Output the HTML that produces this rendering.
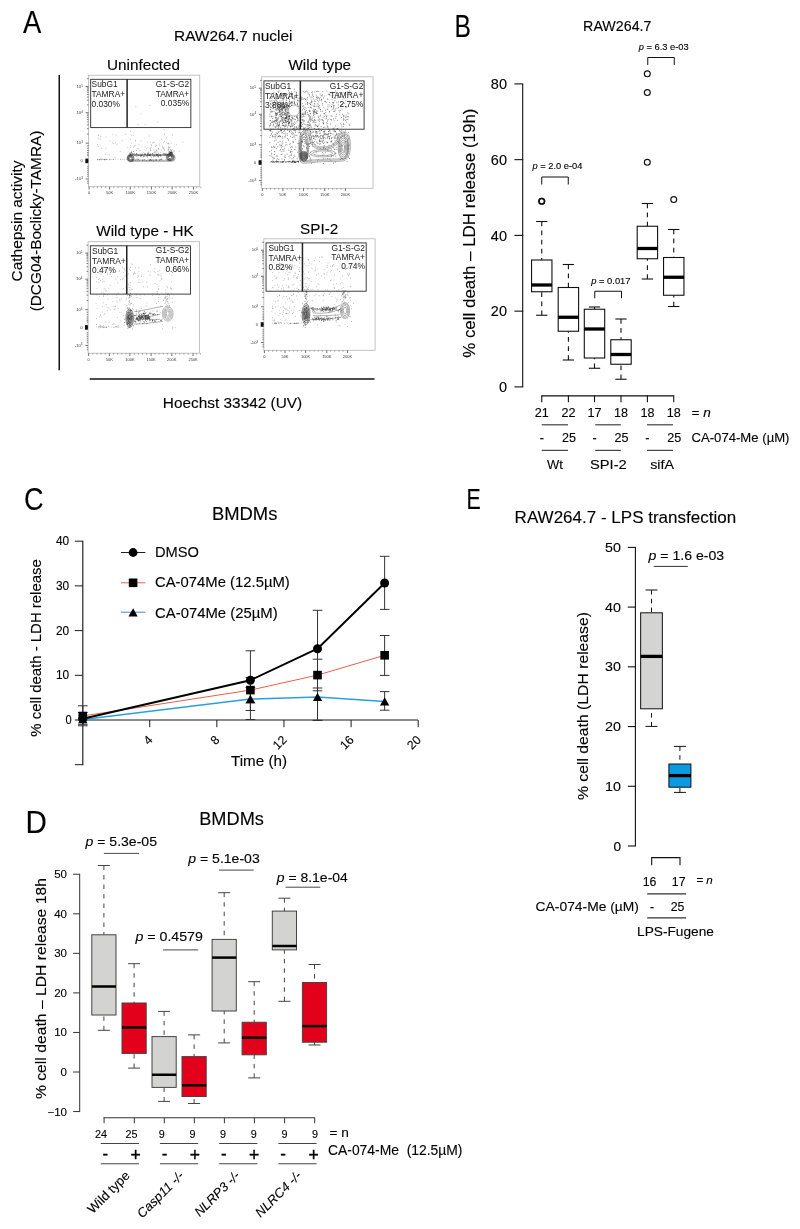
<!DOCTYPE html>
<html><head><meta charset="utf-8"><title>Figure</title>
<style>
html,body{margin:0;padding:0;background:#fff;}
body{width:800px;height:1229px;overflow:hidden;}
svg{display:block;font-family:"Liberation Sans",sans-serif;fill:#111;}
svg text{filter:grayscale(1);fill:#000;stroke:#000;stroke-width:0.12px;}
svg text.tk{fill:#3a3a3a;stroke:none;}
svg text.gt{fill:#1a1a1a;stroke:none;}
</style></head><body>
<svg width="800" height="1229" viewBox="0 0 800 1229">
<rect x="0" y="0" width="800" height="1229" fill="#fff" stroke="none"/>
<g id="panelA">
<text x="22.9" y="32.6" font-size="31" textLength="18.3" lengthAdjust="spacingAndGlyphs">A</text>
<text x="174" y="41.3" font-size="15.3" textLength="118.5" lengthAdjust="spacingAndGlyphs">RAW264.7 nuclei</text>
<text x="107" y="70.1" font-size="15.3" textLength="73" lengthAdjust="spacingAndGlyphs">Uninfected</text>
<text x="288.4" y="70.2" font-size="15.3" textLength="62.7" lengthAdjust="spacingAndGlyphs">Wild type</text>
<text x="96.25" y="236" font-size="15.3" textLength="97.5" lengthAdjust="spacingAndGlyphs">Wild type - HK</text>
<text x="300.1" y="234.4" font-size="15.3" textLength="38.3" lengthAdjust="spacingAndGlyphs">SPI-2</text>
<text x="162.8" y="408" font-size="15.3" textLength="139.4" lengthAdjust="spacingAndGlyphs">Hoechst 33342 (UV)</text>
<text x="22.4" y="221" font-size="15.3" text-anchor="middle" textLength="120.8" lengthAdjust="spacingAndGlyphs" transform="rotate(-90 22.4 221)">Cathepsin activity</text>
<text x="41" y="221" font-size="15.3" text-anchor="middle" textLength="180.7" lengthAdjust="spacingAndGlyphs" transform="rotate(-90 41 221)">(DCG04-Boclicky-TAMRA)</text>
<line x1="59.25" y1="75" x2="59.25" y2="370.3" stroke="#111" stroke-width="1.5"/>
<line x1="89.75" y1="379.1" x2="374.5" y2="379.1" stroke="#111" stroke-width="1.5"/>
<g transform="translate(88.45 75.2)">
<path d="M17.7 61.9h0M27.5 59.9h0M24.1 67.5h0M9.7 71.2h0M9.1 69.3h0M10.1 60.4h0M20.7 79.5h0M11.7 63.8h0M26.8 82.6h0M25.3 68.3h0M37.3 59.2h0M33.8 65.5h0M12.3 61.1h0M17.3 79.2h0M13.4 73.1h0M27.2 67.7h0M24.4 59.6h0M9.8 63.4h0M28.4 69.1h0M17.4 73.2h0M21.6 65.8h0M31.8 76.2h0M41.8 72.2h0M62.8 69.5h0M69.5 73.7h0M47.9 78.6h0M79.8 76h0M65.3 66.9h0M70.8 70.6h0M59 67h0M53.4 71.1h0M78.2 62.8h0M48 75.3h0M79.9 77.2h0M43.1 60.1h0M67.9 70h0M76.1 74.9h0M66.7 76.4h0M81.5 77.4h0M69.7 77h0M74.5 76.9h0M42.3 70.5h0M73.3 64h0M70.1 73.2h0M67.6 77.6h0M56.7 71.7h0M75.5 74.1h0M80.1 71.6h0M48.8 73.3h0M62.4 72.4h0M79.5 68.4h0M77.9 67h0M55.3 77.5h0M76.4 78.7h0M67.8 74.8h0M65.7 77.2h0M62.1 75.5h0M70.3 74h0M72.4 77.1h0M86.1 75.8h0M59.3 72h0M60.3 76.1h0M84.2 59.9h0M51.6 75.3h0M68.4 75.3h0M59.3 77.6h0M67.1 71.1h0M90.7 76h0M57.9 73.5h0M61.5 73.7h0M75.1 67.6h0M45.3 72.1h0M60.2 77.4h0M76 59.2h0M76 66h0M71.5 65.8h0M62.4 75.1h0M72.8 74.8h0M75.5 72.4h0M74.1 72.5h0M65.5 77.9h0M66.4 77.5h0M47.2 65.7h0M70.8 68.7h0M52.7 65.9h0M77.9 78.1h0M80.2 68.8h0M64 67.7h0M74.9 73h0M62.9 70.7h0M68.4 76.3h0M80.5 68.4h0M80 73h0M65.3 74.7h0M79.7 72.6h0M38.7 71.9h0M43.6 78.5h0M67.5 70.6h0M63.9 78.6h0M56.6 78.8h0M43.4 68h0M50.4 73.9h0M61.9 73.8h0M57.5 75.3h0M83.7 74.2h0M61.8 67.1h0M45.9 70.7h0M75.1 78.4h0M64.1 78.4h0M65.8 67.5h0M46.8 70.5h0M74.2 70.9h0M61.3 30.2h0M52.6 38.5h0M47.4 31.5h0M49.6 49.4h0M68.8 46.6h0M90 19.4h0M56.7 49.5h0M81.1 14h0M44.9 60h0M42.1 56.3h0M42.2 64.1h0M82.7 68.1h0M46.8 64.9h0M75.6 54.6h0M88.3 69.4h0M50.5 69.1h0M60.7 60.8h0M94.4 67h0M13.3 83.9h0M18.7 84.3h0M14.4 84h0M9.1 84.6h0M25.1 84.2h0M18.4 84.2h0M27.2 84.1h0M38.1 84.2h0M32.2 84.3h0M16.5 84.2h0M9.7 84.2h0M12.4 84h0M21.2 84.6h0M16.3 84h0M13 84.5h0M29.5 84h0M11.2 84.6h0M21.3 84.3h0M10.7 84.5h0M32.5 84.1h0M11 84.3h0M34.4 84.1h0M22.1 84h0M36.3 84.5h0M16.5 84.4h0M15.7 84.4h0M11.8 84.2h0M14.6 84.3h0M17.9 84.1h0M17.2 84.6h0M23.5 84.3h0M9 84.4h0M16 84.6h0M25 84.2h0" stroke="#444" stroke-width="0.62" stroke-linecap="round" fill="none" opacity="0.65"/>
<path d="M67.5 80.7h0M67.7 79.9h0M67.8 79.3h0M49.9 80.5h0M47.9 78.2h0M48.5 81.1h0M57 79h0M52.1 80.4h0M68.5 80.1h0M81.3 80.5h0M61.7 80.4h0M83.5 80.7h0M75.3 79.2h0M60.1 80.5h0M58.1 80.7h0M69.8 80.6h0M59.2 81.8h0M78.1 79.8h0M63.2 81.8h0M57.5 80.6h0M74.7 80h0M46.8 80.1h0M66.7 80.8h0M72.2 80h0M73.1 80.4h0M64.7 80h0M58.8 80.5h0M48.3 79.6h0M62.1 79h0M56.3 78.6h0M53.1 80.4h0M69.4 80h0M59 79h0M76.2 79.4h0M59.6 78.7h0M72.1 80.7h0M70.2 78.8h0M53.8 79h0M62.4 80.2h0M70.2 80.5h0M81.5 80.8h0M44.9 79.6h0M48.2 79.2h0M60.9 80h0M68.4 78.9h0M45.9 80h0M59.4 79.8h0M61.2 79.5h0M71.1 80.2h0M60.9 79.5h0M59.7 78.1h0M49.2 80h0M42.4 80.1h0M63.9 79h0M58.7 79.8h0M68 80.4h0M61.5 79.4h0M60.1 80h0M71.5 80.2h0M52.6 79.1h0M57.1 79.5h0M47.5 79.9h0M55.6 80.1h0M68.8 79.7h0M76.3 80.1h0M76.5 78.3h0M52.2 80.2h0M69.8 81.6h0M66.2 80.9h0M72 80.7h0M68.6 79.9h0M68.6 79.2h0M77.4 79.3h0M65.2 81.5h0M59.1 80h0M77.1 80h0M51.5 80.2h0M69.6 80.5h0M52 81.2h0M83.7 80h0M65.5 79.7h0M80.4 79.5h0M70.8 79.7h0M53 80.5h0M79.3 80h0M53.2 80.6h0M61.4 80.2h0M81.8 80.8h0M55.2 81.6h0M62 80.6h0M53.6 80h0M79.8 79.1h0M42.4 78.9h0M77.3 79.7h0M61.2 79.8h0M60.4 79.2h0M62.3 79h0M61.1 80.2h0M68.1 79.8h0M50.3 80.1h0M55.7 81.1h0M72 79.9h0M55.9 79.5h0M49.8 79.8h0M65.8 80.4h0M69.4 81.5h0M52.8 80h0M55.2 80.1h0M64 80.3h0M58.9 80.3h0M62.6 85.2h0M62 84.3h0M49.5 85.1h0M54.2 85.1h0M70.9 85h0M68.1 84.7h0M45.1 84.8h0M67.5 84.5h0M60.8 85.2h0M51.5 85.1h0M63.8 84.7h0M80.5 85h0M72.8 84.5h0M61.8 84.8h0M72.8 83.9h0M70.9 84.7h0M67.4 85h0M44 84.7h0M79.9 84.5h0M49.7 84.1h0M47.3 85h0M82.3 85h0M64.9 85.9h0M55.8 84.5h0M68.3 85.1h0M49.8 84.2h0M65.5 84.9h0M46.3 84.7h0M55.5 85h0M60.6 84.8h0M57.8 85.3h0M78.7 84.6h0M72.2 84.4h0M62.9 85.2h0M80.2 84.6h0M61.1 84.9h0M44 84.8h0M53.9 85h0M48.4 83.8h0M62.5 84.9h0M81.1 79.1h0M81.5 76.9h0M82.8 75.4h0M80.8 77.8h0M83.4 77.6h0M82.5 76.8h0M82.5 80.3h0M80.8 81.3h0M80.9 77.8h0M82.3 79.3h0M79.9 74.6h0M83 79h0M83.1 81.7h0M82.3 78.2h0M83.6 78.4h0M84.8 75.9h0M81.4 72.6h0M83.4 77.2h0M83.6 81h0M82 77.4h0M81.2 76.5h0M80.9 78.8h0M82.1 77.9h0M81.7 79.2h0M82.8 77.6h0M83.1 77.6h0M80 80h0M82.8 76.4h0M83.8 78.3h0M79.3 80.2h0M82.6 79.1h0M82.3 77.6h0M79.4 79.3h0M82.1 77.4h0M82.6 77.9h0M83.1 77.2h0M81.9 74.6h0M81.3 78.8h0M84.3 77.3h0M81.8 80.2h0M41.5 80.4h0M44.5 79.4h0M43.8 78.2h0M42.3 79.2h0M42.2 81h0M45.6 78.3h0M41.1 80h0M40.4 80h0M42.9 78.9h0M42.8 77h0M43.1 77h0M41 78.5h0M41.4 80.6h0M42.1 78.7h0M42.8 81.7h0M42 79.8h0M43.9 79.7h0M40.1 83h0M45.3 76.3h0M41.9 79.9h0M43.4 80.3h0M41.6 77.7h0" stroke="#222" stroke-width="0.65" stroke-linecap="round" fill="none" opacity="0.9"/>
<rect x="38.7" y="79.2" width="48" height="6.8" rx="3.4" ry="3.4" fill="none" stroke="#555" stroke-width="0.55"/>
<rect x="39.7" y="80.2" width="46" height="4.8" rx="2.4" ry="2.4" fill="none" stroke="#666" stroke-width="0.5"/>
<ellipse cx="42.2" cy="83.2" rx="3.3" ry="3.3" fill="none" stroke="#2a2a2a" stroke-width="0.6" opacity="1"/>
<ellipse cx="81.6" cy="81.9" rx="3.8" ry="3.6" fill="none" stroke="#2a2a2a" stroke-width="0.6" opacity="1"/>
<ellipse cx="42.2" cy="83.2" rx="2.3" ry="2.3" fill="none" stroke="#2a2a2a" stroke-width="0.6" opacity="1"/>
<ellipse cx="81.6" cy="81.9" rx="2.8" ry="2.6" fill="none" stroke="#2a2a2a" stroke-width="0.6" opacity="1"/>
<ellipse cx="42.2" cy="83.2" rx="1.3" ry="1.3" fill="none" stroke="#2a2a2a" stroke-width="0.6" opacity="1"/>
<ellipse cx="81.6" cy="81.9" rx="1.8" ry="1.6" fill="none" stroke="#2a2a2a" stroke-width="0.6" opacity="1"/>
<rect x="0" y="0" width="111.3" height="111.5" fill="none" stroke="#b5b5b5" stroke-width="0.8"/>
<line x1="-2.8" y1="11.4" x2="0" y2="11.4" stroke="#333" stroke-width="0.7"/>
<line x1="-2.8" y1="37.5" x2="0" y2="37.5" stroke="#333" stroke-width="0.7"/>
<line x1="-2.8" y1="68" x2="0" y2="68" stroke="#333" stroke-width="0.7"/>
<line x1="-2.8" y1="85.7" x2="0" y2="85.7" stroke="#333" stroke-width="0.7"/>
<line x1="-2.8" y1="103.8" x2="0" y2="103.8" stroke="#333" stroke-width="0.7"/>
<path d="M-1.6 29.64H0M-1.6 25.05H0M-1.6 21.79H0M-1.6 19.26H0M-1.6 17.19H0M-1.6 15.44H0M-1.6 13.93H0M-1.6 12.59H0M-1.6 58.82H0M-1.6 53.45H0M-1.6 49.64H0M-1.6 46.68H0M-1.6 44.27H0M-1.6 42.22H0M-1.6 40.46H0M-1.6 38.9H0M-1.6 3.54H0M-1.4 70.5H0M-1.4 73H0M-1.4 75.3H0M-1.4 77.3H0M-1.4 79H0M-1.4 80.5H0M-1.4 91H0M-1.4 93H0M-1.4 95H0M-1.4 97H0M-1.4 99H0M-1.4 101H0M-1.4 106H0M-1.4 108H0" stroke="#333" stroke-width="0.6" fill="none"/>
<rect x="-3.1" y="83.4" width="2.9" height="4.6" fill="#111"/>
<text x="-5.6" y="12.7" class="tk" font-size="4.2" text-anchor="end">10<tspan dy="-1.3" font-size="3.0">5</tspan></text>
<text x="-5.6" y="38.8" class="tk" font-size="4.2" text-anchor="end">10<tspan dy="-1.3" font-size="3.0">4</tspan></text>
<text x="-5.6" y="69.3" class="tk" font-size="4.2" text-anchor="end">10<tspan dy="-1.3" font-size="3.0">3</tspan></text>
<text x="-5.6" y="87" class="tk" font-size="4.2" text-anchor="end">0</text>
<text x="-5.6" y="105.1" class="tk" font-size="4.2" text-anchor="end">-10<tspan dy="-1.3" font-size="3.0">3</tspan></text>
<path d="M0.6 111.5v2.8M21.2 111.5v2.8M41.8 111.5v2.8M63 111.5v2.8M83.7 111.5v2.8M105 111.5v2.8" stroke="#333" stroke-width="0.7" fill="none"/>
<path d="M4.74 111.5v1.5M8.88 111.5v1.5M13.02 111.5v1.5M17.16 111.5v1.5M25.44 111.5v1.5M29.58 111.5v1.5M33.72 111.5v1.5M37.86 111.5v1.5M46.14 111.5v1.5M50.28 111.5v1.5M54.42 111.5v1.5M58.56 111.5v1.5M66.84 111.5v1.5M70.98 111.5v1.5M75.12 111.5v1.5M79.26 111.5v1.5M87.54 111.5v1.5M91.68 111.5v1.5M95.82 111.5v1.5M99.96 111.5v1.5M108.24 111.5v1.5M112.38 111.5v1.5" stroke="#555" stroke-width="0.5" fill="none"/>
<text x="0.6" y="119.1" class="tk" font-size="4.0" text-anchor="middle">0</text>
<text x="21.2" y="119.1" class="tk" font-size="4.0" text-anchor="middle">50K</text>
<text x="41.8" y="119.1" class="tk" font-size="4.0" text-anchor="middle">100K</text>
<text x="63" y="119.1" class="tk" font-size="4.0" text-anchor="middle">150K</text>
<text x="83.7" y="119.1" class="tk" font-size="4.0" text-anchor="middle">200K</text>
<text x="105" y="119.1" class="tk" font-size="4.0" text-anchor="middle">250K</text>
<rect x="2.25" y="4.1" width="100.15" height="48.3" fill="none" stroke="#2a2a2a" stroke-width="0.9"/>
<line x1="38.65" y1="4.1" x2="38.65" y2="52.4" stroke="#222" stroke-width="1.5"/>
<text x="3.1" y="12.1" class="gt" font-size="8.4">SubG1</text>
<text x="3.1" y="22" class="gt" font-size="8.4">TAMRA+</text>
<text x="3.1" y="31.4" class="gt" font-size="8.4">0.030%</text>
<text x="100.8" y="11.8" class="gt" font-size="8.4" text-anchor="end">G1-S-G2</text>
<text x="100.8" y="21.7" class="gt" font-size="8.4" text-anchor="end">TAMRA+</text>
<text x="100.8" y="30.6" class="gt" font-size="8.4" text-anchor="end">0.035%</text>
</g>
<g transform="translate(261.7 76.8)">
<path d="M15 44h0M26.6 62.5h0M30.4 75h0M27.9 22.7h0M25 40.9h0M30.1 28.3h0M15.4 31.7h0M12.6 77.7h0M25.3 37.5h0M19.9 85.5h0M23.2 30.7h0M32.3 61h0M37.7 21.4h0M22.2 73h0M33.2 79.8h0M9.2 35.1h0M11.6 27.6h0M37.2 56h0M35.9 40.8h0M34 46.3h0M15.8 70h0M36.4 21.6h0M25.9 58.6h0M14.5 40.5h0M12.2 28.7h0M15.6 57.2h0M27.5 28.6h0M8.3 37.6h0M28.3 27.3h0M17.4 28.6h0M31.9 53.5h0M9.9 21.3h0M19.9 53.6h0M27.2 20.6h0M12.9 64.1h0M20.3 34.4h0M17.2 82.6h0M17.4 54.8h0M18.7 44h0M33.9 85.8h0M18.9 28.2h0M29.8 28.7h0M8.2 78.9h0M20.7 73.1h0M20.2 77.6h0M21.8 25.7h0M8.4 53.7h0M27.2 79.5h0M10.7 58.8h0M19.1 50.3h0M12.4 34.4h0M23.6 80.6h0M11.3 49.3h0M32.1 83.6h0M13.9 23.1h0M36.3 84.2h0M22.5 17.8h0M35.8 41.9h0M35.1 58.7h0M32.7 25.5h0M20.1 74.9h0M32.9 27.2h0M14.5 42.8h0M23.5 41.6h0M11.7 31.8h0M29.7 78.6h0M9.2 54.5h0M30.7 16.7h0M33.1 22.5h0M26 53.6h0M26.8 36h0M20.6 55.9h0M20.8 61.4h0M21.4 45.6h0M8.7 58.6h0M22.7 30.9h0M30.9 70.2h0M21.7 26.9h0M22.2 21.7h0M11.9 45h0M10.8 45.8h0M23.3 16.9h0M27.1 19.9h0M30 70h0M23.3 17.9h0M23.1 41.2h0M36.5 23.8h0M33.7 85.7h0M30 72.7h0M13.8 84.7h0M22.8 82.9h0M35.5 25.9h0M31.7 81h0M10 39.3h0M30.7 25.4h0M32.5 24.3h0M23.1 80.2h0M14.2 32.9h0M23.2 37h0M9.1 27.1h0M12.8 81.4h0M28.4 78.5h0M13.1 70.5h0M11.5 52.2h0M27.1 39.9h0M34.2 54h0M25.4 77.5h0M11.1 85.5h0M26.9 42.4h0M37.7 55.6h0M18.8 69.1h0M21.3 26.7h0M30.3 17.5h0M27.2 84.9h0M25.6 61.8h0M17.4 14.1h0M9 24.8h0M26.5 45.1h0M23.4 78.5h0M12 30.4h0M27.6 15.6h0M8.1 39.6h0M11.2 39.7h0M14.7 56h0M25.7 28.7h0M26.7 48.2h0M12 81.4h0M15.3 24.8h0M10.9 60h0M34.1 70.3h0M20.1 33h0M8.3 60.4h0M24.9 39.2h0M27.4 46h0M36.1 66.8h0M15.5 79.1h0M9.3 52.3h0M20.2 31.1h0M9.8 70.1h0M8.4 53.7h0M36.2 24.2h0M14 57.8h0M23.2 60.2h0M32.4 26.6h0M17.3 35.6h0M9.5 78h0M31.5 65.5h0M8.2 74.8h0M30.4 47.5h0M30.3 46.6h0M14.8 21.6h0M15 16.8h0M18.1 68h0M28.9 74.9h0M24.6 45.4h0M31.7 51.7h0M16 60.2h0M37 29.6h0M34.4 15.1h0M15.8 31h0M30.3 82h0M15.2 79.3h0M26.9 63.9h0M28 84.5h0M22.1 74.5h0M28.9 75.7h0M21.1 66.2h0M25.1 36.2h0M14.4 58.8h0M10.3 79.6h0M12.3 15.9h0M11.2 80.9h0M18.3 24.2h0M8.9 17h0M28.8 59.6h0M28.9 67h0M10 56.5h0M18.9 72.9h0M32.6 78.2h0M10 76.5h0M35.4 82h0M11.2 28.8h0M11.4 16.5h0M33.4 72.5h0M27 73.4h0M11 21h0M17.6 44.5h0M8.6 32.5h0M16.5 65.5h0M19 37.1h0M36.9 50.3h0M33.5 58.5h0M8.9 43.7h0M21.1 69.7h0M18.4 64.7h0M24.1 29.6h0M33.9 20.5h0M32.6 26.3h0M8 28.5h0M30.9 84.4h0M8.1 49.3h0M22.7 71.4h0M13.5 49.6h0M18.4 73.9h0M15.8 82h0M16.5 29.5h0M29 49.9h0M11.3 59.8h0M10.4 70.7h0M28.9 70.7h0M26.8 39.6h0M20 42.4h0M34.7 20.2h0M34.7 15.8h0M14.2 33h0M35 50.1h0M19.4 77.6h0M15 47.2h0M23.9 68.3h0M30.6 60.5h0M18.5 37.5h0M12.7 74.7h0M27.9 67.4h0M13.1 45.6h0M31.2 55.7h0M11.8 47.3h0M13.7 35.7h0M29.1 74.7h0M12.6 25.2h0M15.4 37.5h0M23.7 25.6h0M17.8 27.6h0M37.3 66.5h0M11.1 83.3h0M11 41.7h0M37.5 71.2h0M30 45.3h0M13.9 59.9h0M11.2 28.9h0M19.7 16.4h0M20 71h0M28.8 50h0M27 47.4h0M12.3 57.5h0M20.1 67.3h0M35.2 45h0M25.2 67.9h0M20.6 30.5h0M29.7 77.4h0M31.2 64.4h0M33.6 62.9h0M27.2 46.7h0M17.4 59.2h0M10.9 44.2h0M31.5 65.3h0M26.9 32h0M20.7 46.8h0M26.6 43.5h0M28.3 81h0M13.5 61.1h0M31.3 42h0M22.7 84.2h0M9.1 53.1h0M12.8 70.3h0M36.2 51.4h0M11 55.4h0M24.2 65.6h0M23.4 60h0M32.9 51.6h0M20.3 82.3h0M14.3 63.3h0M19.8 68.9h0M11.7 84.9h0M18.7 18.1h0M16.2 42.8h0M8.4 44.1h0M20.6 64.3h0M18.6 33.1h0M14.7 67.4h0M36.2 51.9h0M14.6 71.7h0M19.8 29.3h0M11.9 69.9h0M32.3 59.7h0M22.1 54.5h0M14.8 83.4h0M18.6 60h0M32.6 72.8h0M22 35.2h0M24.4 23h0M33 39.5h0M19.3 32.3h0M20.8 27.4h0M8.1 66h0M16.4 31.6h0M17.1 48.5h0M20.9 59.9h0M27.8 40.1h0M35.9 75.5h0M9.7 73.6h0M35.6 27.3h0M33.6 54h0M23.1 36.6h0M20.6 31.1h0M27.6 41.6h0M25.4 56.9h0M21.4 43.2h0M35.7 27h0M32.3 58.2h0M13.2 25.9h0M15.7 17.7h0M27.6 17.6h0M28 54h0M11.1 34.5h0M8.7 46.6h0M18.1 35.1h0M24.4 44h0M21.2 38.2h0M19.6 39.3h0M14.6 38.7h0M8.5 32.6h0M39.3 38.9h0M13.9 40.8h0M16.2 19.8h0M18.1 46.1h0M27.1 36.9h0M16.6 26.1h0M34.8 40.7h0M16.4 14.8h0M14.8 37.2h0M25.7 36.3h0M21.8 22.9h0M15.6 56.6h0M17.9 47.3h0M10.4 35h0M26.1 49.4h0M15 44.5h0M27.1 29.9h0M27.8 28.1h0M17.6 37.8h0M16 21.9h0M20.6 46.4h0M20.8 51.9h0M14.7 23.6h0M36.4 42.4h0M30.4 40.9h0M16.3 21.7h0M15.7 27.7h0M20.4 24h0M21.7 31.1h0M19.6 27.4h0M24.3 32.9h0M24.9 40.7h0M26.7 13.9h0M19.7 29.2h0M30.2 20.6h0M18.3 34.8h0M21.3 48.9h0M20.5 48.6h0M12.3 18.1h0M33.8 42.8h0M27.9 39.4h0M27.9 24.6h0M8.2 23.8h0M20.8 40.7h0M20.6 32h0M24.8 39.6h0M36.1 38.5h0M39 57.8h0M37.7 49.7h0M25 39.5h0M22.9 30h0M23.5 31h0M37.1 43.9h0M20.4 16.9h0M23.6 33.4h0M15.3 25.5h0M23.8 36.4h0M35.6 39.5h0M25.3 33.9h0M19.2 54.5h0M32 56.9h0M21.2 38.3h0M17 48.6h0M12.9 44.2h0M32.8 53.5h0M16.5 50h0M18.3 29.7h0M13.4 50.7h0M17.9 34.3h0M19.7 18.3h0M18.6 51.1h0M38.9 35.1h0M18.5 32.4h0M8.9 48h0M15.3 49.7h0M10.3 24h0M26.3 29.6h0M14.6 44.8h0M30.7 17h0M38.6 43.5h0M30.1 17.5h0M18.2 34.2h0M32.6 21.9h0M16.9 15.7h0M22.1 41.8h0M10.5 31.5h0M28.1 55.4h0M14.6 27.7h0M18.7 39.6h0M23.6 56.3h0M26.3 26.2h0M36.4 48.4h0M24.8 30.1h0M9 26.8h0M13.4 40.2h0M26 44.7h0M29.2 53.5h0M17.3 48.8h0M16.1 45.6h0M25.4 40.7h0M32.9 47.6h0M25.1 31.8h0M18 32.2h0M22.4 37.7h0M30.2 28.5h0M18.3 34.5h0M25.5 26.6h0M32.6 12.3h0M23.9 41.1h0M25.5 44.6h0M26.2 39.8h0M8.9 30.2h0M26.5 35.9h0M17.4 31.6h0M38.8 57h0M23.5 52.2h0M11.3 16.7h0M20.1 28.4h0M19.5 40.1h0M24.4 41h0M23.7 48.2h0M38.2 24.3h0M25.3 35.1h0M26.9 21.2h0M9.9 12.5h0M28.2 40.1h0M21 29.7h0M12.7 27.9h0M29.6 44h0M23.8 43.7h0M19.2 38.8h0M24.3 44.1h0M23.4 36.4h0M22.9 30.9h0M35.2 20.9h0M29.6 47.2h0M39.1 52.5h0M30.2 25.1h0M17 41h0M28 26.8h0M20.9 33.6h0M24.5 41.7h0M21.7 24.4h0M33.9 55.6h0M23.2 49.3h0M27.6 45.3h0M27.9 29.6h0M28.6 49.1h0M16.8 59.6h0M39.9 46.2h0M21.3 31.4h0M17.5 39.3h0M23.7 45.4h0M29.4 43.2h0M26.2 35.7h0M23 28.9h0M25.4 37.7h0M26.6 28.6h0M24.3 38.5h0M28.8 26.3h0M27.4 48.8h0M20.1 35.4h0M29.8 55.1h0M22.7 30.9h0M27 40.2h0M16.7 29.9h0M23.2 45.4h0M14.5 26.8h0M28 24.5h0M24.9 41.9h0M23.1 26.8h0M23.5 34.3h0M26.7 28.8h0M32.7 19.6h0M22.6 38.1h0M29.9 57.1h0M20.8 42.9h0M16.6 48.7h0M14.9 42.4h0M33.2 50h0M30.5 17.9h0M18.6 53.6h0M14.2 50.4h0M39.1 46.4h0M14.2 36.9h0M22.4 37.5h0M25.5 42.7h0M24 58.3h0M27.5 38.9h0M22.3 31.1h0M34.8 39.7h0M15.4 31.8h0M22.9 33.1h0M32.7 25.2h0M27.9 39.6h0M14.6 38.5h0M23.2 43.5h0M20.4 41.3h0M10.7 26.1h0M30.3 49.5h0M23.9 31.4h0M32.7 15h0M17.6 45.4h0M29.2 26.6h0M8.9 54h0M25.2 28.1h0M24.4 47.9h0M29.9 15.1h0M30.2 18.4h0M33.1 42.4h0M24 49.5h0M18.9 30.2h0M21 37.2h0M15.3 43.3h0M28.3 38.8h0M30 16.7h0M25.6 36.1h0M20 31.3h0M21.2 30.1h0M19.6 32.2h0M15.5 36.5h0M20.1 52.9h0M31.8 48.1h0M23 50.2h0M19.6 36.7h0M27 42.1h0M21.8 48.8h0M22.6 46h0M32.6 45.3h0M29.9 25.2h0M13.5 31.2h0M27.8 54.5h0M14.2 41.4h0M17.2 29.9h0M21.8 45.6h0M25.7 51h0M16.1 47.8h0M15.3 33.5h0M20.1 56.2h0M25.6 41.4h0M31.3 42.1h0M11.9 44.6h0M28.4 43h0M28.1 46.2h0M16.8 51.2h0M12.4 23.7h0M28.2 26h0M23.1 19.9h0M24.6 25.5h0M26.7 21.1h0M24.5 37.3h0M25 23.5h0M16.5 33h0M27.4 16.2h0M17.9 31.3h0M15.5 41.6h0M22.9 29h0M16.1 46.9h0M18.7 44.4h0M27.6 17.2h0M15.3 38h0M26.7 46.6h0M30.4 49.4h0M21 35.7h0M32.5 20.5h0M8.3 48.8h0M26.5 38.2h0M15.4 32.9h0M36.1 28.9h0M14.4 36.5h0M20.9 28h0M17.3 49.5h0M12.5 59.5h0M19.6 26h0M30.3 44.2h0M15.7 46.2h0M9.3 27.8h0M13.6 43.7h0M9.5 34.2h0M27.3 46.5h0M38.8 35.2h0M20.1 37.6h0M33.6 27.6h0M27.7 45.6h0M14.5 37h0M25.9 44.5h0M16.6 27.1h0M22.5 35.6h0M12 48.2h0M19.7 53.8h0M29.8 25.8h0M21.4 31.7h0M13.8 38.2h0M22.8 53.8h0M16.7 32.9h0M27.4 42.4h0M24.2 32.8h0M28 42h0M9.3 35.1h0M13 25h0M25.2 38.7h0M24.9 28.4h0M22.4 28h0M27.1 45.6h0M38 51.9h0M17.6 33h0M16.5 41.4h0M39.8 45.8h0M13.7 43.7h0M24 41.3h0M38.3 28.9h0M17.2 59.6h0M26.7 29.4h0M7.8 21.2h0M24.4 48.9h0M22.9 30.4h0M18.1 58.9h0M9.9 39.9h0M24.2 44.8h0M20.8 43.5h0M20.3 36h0M16.3 35.7h0M21.6 40.3h0M34.7 52.4h0M20.4 44.6h0M26.4 46.4h0M24.2 40.9h0M20.2 29.4h0M31 52.3h0M29.3 42.8h0M26.1 33h0M9.7 45.3h0M25.6 31.9h0M16.3 52.1h0M9.6 57.4h0M18.3 37.8h0M19.9 39.7h0M22.3 29.8h0M19.9 44.1h0M19.7 33.2h0M14 36.9h0M22.2 56.8h0M15.2 48.7h0M17.7 34.1h0M21.4 41h0M30.9 57.2h0M18.9 52.6h0M32 46.9h0M17.9 47.9h0M23.1 41.9h0M21.8 45.3h0M32.9 50.4h0M22.4 48.9h0M35.6 27.7h0M35.8 23.3h0M28.3 44.5h0M35.9 41.1h0M20.2 29.2h0M14 46.4h0M22.1 30.1h0M28.3 29.6h0M20.5 33h0M37.2 54.1h0M22.7 20.7h0M26.2 38.8h0M26.8 44.2h0M21.4 48.2h0M30.7 40.3h0M20.7 32.7h0M29.5 25.9h0M22.7 29.8h0M12.9 44.6h0M23.8 38.4h0M31 21.6h0M23.5 41.2h0M30.7 26.1h0M29.7 40.4h0M34.8 50.5h0M24 33.3h0M21.3 27.7h0M23.8 17.3h0M23.3 42.7h0M22.9 17.3h0M17.9 29.3h0M35.7 43.7h0M15.4 43.7h0M24.2 34.7h0M19.8 19h0M23.3 51.8h0M18.2 35.7h0M31 41.8h0M19.4 41.9h0M22.4 43.5h0M20.8 22.2h0M24.5 46.2h0M15.4 36.8h0M18.9 59.8h0M30.5 49h0M16.6 55.5h0M65.4 49h0M46.5 44.7h0M67.9 35.2h0M76.3 52.2h0M43.7 27.3h0M56 23.5h0M41 26.9h0M47.9 46.3h0M60.4 19.2h0M54.2 35.6h0M56.1 21.7h0M41.6 14.5h0M87.6 48.5h0M42.2 47h0M87 39.9h0M43.4 36.5h0M59.7 22.7h0M65.2 14.4h0M84 43.6h0M69.4 57h0M70.6 25.6h0M50.3 20.4h0M39.4 49.6h0M80 27.6h0M47.3 43.4h0M80.3 56.6h0M46.4 50.1h0M79.5 48.1h0M54.3 22.5h0M79.3 28.7h0M56.4 39.4h0M56.5 52.2h0M50 15.9h0M66.3 42.9h0M79 46.5h0M83.3 57.5h0M62.7 37h0M45.9 27.8h0M67.1 17.7h0M72.4 21.5h0M60.2 58.6h0M42.5 15.8h0M60 22.8h0M74.1 14.1h0M80 53.3h0M77.3 33.6h0M52.2 44.4h0M63.7 33.4h0M54.9 34.2h0M71.3 52h0M83.2 21.6h0M52.8 34.4h0M66.2 30h0M47.8 17.9h0M54.2 35.2h0M86.6 55.8h0M81.3 58.8h0M86.1 42.5h0M78.6 16.8h0M71.8 42h0M52.9 40.3h0M85.6 36.1h0M70.4 27.8h0M55.2 54.7h0M39.4 22.7h0M71.9 34.6h0M42.3 44.4h0M56.6 40.7h0M58.8 38.4h0M66.2 32.2h0M43.7 22.3h0M82.5 39.2h0M43.6 53.7h0M50.7 18.4h0M64.5 25.6h0M62.5 39.5h0M49.3 40.3h0M43.7 37.6h0M67.4 17.7h0M58.4 17.4h0M60 53.7h0M65.5 46.9h0M75.8 19.3h0M87.5 47.2h0M43.1 52.2h0M57.6 21.9h0M86 39.9h0M76.7 20.3h0M76.8 16.6h0M49.8 31.1h0M38.8 41.3h0M48.7 27.8h0M73.4 33.6h0M82.4 42.6h0M81.6 39.9h0M83.9 54.1h0M46.4 48.3h0M55.1 49.1h0M72 52h0M44.1 31.2h0M74.9 57.6h0M74.1 16h0M68.2 18.6h0M65.4 50.9h0M43.6 56.6h0M71.8 25.7h0M47.7 34.6h0M79.9 40.7h0M43.7 15h0M43.5 50.8h0M47.3 39.5h0M52.5 45.6h0M57 20.6h0M81.8 38.8h0M72.5 51.2h0M85.4 14.6h0M55.1 20.9h0M63.1 54.2h0M78 15.6h0M47.1 51.6h0M72 32.1h0M61.8 21.3h0M80.3 32.1h0M81.7 42.1h0M41.8 29.1h0M48.8 55.1h0M67.5 16h0M46.5 30.6h0M61.4 40.5h0M57.4 30.3h0M38.3 40.6h0M54.7 14.9h0M61 59.4h0M40.3 20.7h0M71.5 26.5h0M51.7 37h0M51.1 40.2h0M64.4 58h0M87.6 15.6h0M66 49.5h0M81.6 49.6h0M69.7 43.2h0M56.1 27h0M77.8 54.1h0M84.9 45.3h0M53.2 49.1h0M75 37.4h0M69.8 30.1h0M65.5 32.7h0M41 29.5h0M54.2 59.5h0M62.1 30.9h0M50.2 24.8h0M55.5 20.2h0M38.4 54.1h0M60.7 34.5h0M66.4 27.9h0M46.4 17.1h0M53.1 28.2h0M74.3 39.4h0M84.9 29.7h0M84.1 40.8h0M42 22.2h0M67 59.4h0M55.8 49.6h0M59.4 53.9h0M41.4 36.3h0M83 26.7h0M50.9 15.1h0M46.2 26.3h0M73.2 24h0M58 23.2h0M68.1 53.7h0M70.4 23h0M74.7 58.3h0M68.1 17.6h0M78.5 54.3h0M55.1 20.3h0M47.4 38.7h0M81.8 43.4h0M84.1 23.8h0M54.3 48.5h0M70.4 32.6h0M71.9 29.5h0M40.9 33.1h0M40.3 42.8h0M54.7 36.7h0M67.9 25.8h0M61.2 14.6h0M84.3 40h0M87.4 16.6h0M68.7 47.3h0M54.5 18.3h0M45.8 20.6h0M76.4 18.1h0M78.7 33.5h0M64.9 41.1h0M65.7 44.2h0M68.1 29.2h0M75.1 25.9h0M73.6 49.1h0M76.8 28.2h0M76.6 59h0M60.7 26.8h0M64.2 57.3h0M44.6 14.4h0M61.8 44.1h0M76.7 30.7h0M87.5 24.5h0M75.8 18.1h0M39.4 20.2h0M41 37.1h0M65.8 22.4h0M85 30.8h0M45.5 22.2h0M74.9 56.4h0M46.1 15.3h0M76.9 25.2h0M87.1 37h0M69.8 29.8h0M78 35.2h0M54.2 55.6h0M43.4 47.7h0M41.3 43.7h0M58.1 53.7h0M41 40h0M58.5 56.3h0M85.2 42.8h0M49.2 25.6h0M51.1 34h0M49.6 23.3h0M76 43.6h0M52.9 59.7h0M48.8 40.2h0M45.8 53.7h0M81.5 26.3h0M75.6 51.9h0M52.1 29.3h0M62.3 55h0M46.1 45.4h0M67.9 34.8h0M67 54.6h0M48.5 54.6h0M56 49.9h0M81.2 22.4h0M81.2 59.8h0M52.9 15.1h0M43.6 58.8h0M38.5 55.9h0M45.5 47.9h0M42.9 21.8h0M72.1 18.2h0M55 56.3h0M73.8 54.6h0M87 15.5h0M49.7 50.4h0M72.5 15.7h0M63.2 24.7h0M59.5 18.8h0M39 59.6h0M53.8 54.4h0M44 36.4h0M44.8 33.7h0M46.9 45.5h0M45.4 48h0M63 19.2h0M55.7 36.8h0M83.9 30.1h0M48.8 58.5h0M82.2 47.6h0M51.6 22.2h0M51.2 17.2h0M40.2 37.4h0M58.4 39.6h0M56.1 14.5h0M72.4 44h0M65.2 39.2h0M72.5 59.2h0M81.7 47h0M58 28.6h0M59 58.8h0M57.4 31.7h0M58.5 20.6h0M87.9 14.2h0M68.4 56.6h0M50.7 42.1h0M56.8 25.1h0M47.9 19.3h0M80.2 50.1h0M83.4 16.3h0M72.7 28.9h0M70.3 39.3h0M53.8 58.7h0M38 48.3h0M80.7 37.5h0M67.6 59.8h0M49.7 43h0M75.2 31.4h0M73.6 32.1h0M64.3 42.2h0M71.9 28.8h0M69.4 39h0M49.2 42.2h0M51.2 55.8h0M61.7 47.2h0M64.1 35.9h0M49.1 20.5h0M84.4 38.3h0M64.2 38.3h0M78.7 25h0M46.6 51.8h0M61 43.5h0M79.4 55.1h0M81.4 16h0M57.1 52.3h0M78.9 19.7h0M45.7 25.6h0M43.1 30.4h0M78.2 38h0M60.6 18h0M57.8 59.9h0M72.8 34.7h0M61.9 50.7h0M75.9 20.9h0M72 30.9h0M64 24.9h0M56.5 29.6h0M57.1 14.8h0M48 40.2h0M40.9 22.2h0M48.7 30.6h0M47.3 48h0M51.8 35.5h0M39.6 22.1h0M52.5 52h0M52.9 23.9h0M48.3 42.6h0M42.8 44.1h0M48.4 30.2h0M40.3 49.5h0M52.8 29.6h0M42.1 50.4h0M54.6 36.4h0M62.4 36.6h0M41.8 52.8h0M48.5 44h0M50.3 28.3h0M40.7 37.7h0M61 28.3h0M60.6 42.6h0M41.3 43.1h0M54.4 29.5h0M41.4 45.1h0M43.7 22.7h0M48.1 42h0M45.7 26.2h0M51.7 19.6h0M54.2 45.7h0M63.1 50.3h0M52.8 43.1h0M50.2 24.5h0M61.4 46.1h0M47.8 26.6h0M61.5 46.2h0M40.8 47.8h0M64.7 39.7h0M53.1 35.2h0M45.1 52.5h0M73.9 41.4h0M49 49.2h0M47.6 48.5h0M56.4 28.2h0M41.7 39.1h0M56.5 43.2h0M59.6 24h0M53.8 32.7h0M50.8 43.7h0M42.5 37.3h0M41 43.1h0M43.4 34.2h0M51.7 32.4h0M58.9 32.6h0M56.6 43.3h0M42 37.5h0M43.5 35.8h0M47.9 61.2h0M46.7 58.3h0M53.5 24.8h0M58 44.5h0M48.4 37.1h0M52 36.5h0M45.9 35.7h0M59.1 32.8h0M52.9 26.6h0M44.5 24h0M48.5 47.9h0M52.4 34.3h0M54.7 36h0M52.9 43.2h0M39.9 49h0M48.2 33.6h0M61.6 46.5h0M64.7 45.9h0M48.4 48.4h0M43.9 34.8h0M45.7 37.4h0M56 34.4h0M52.5 34.2h0M48.4 42h0M41.7 51.8h0M51.7 54.9h0M57.4 47.4h0M48.8 27.4h0M48.3 34.7h0M51.9 34.6h0M73.6 21.5h0M59.1 34.6h0M48.1 50.7h0M50 25.9h0M53.2 37.7h0M41.8 31.4h0M53.7 43.5h0M53.2 32.9h0M51.8 38.6h0M48.6 36.8h0M45.6 51.4h0M50.2 59.8h0M56.1 59.1h0M49.1 44.3h0M46.7 38h0M42.7 32.5h0M59.4 43h0M59.5 49.9h0M57.1 51.6h0M45.3 49.3h0M47.5 33.9h0M42.5 60.1h0M56.4 30.2h0M52.1 44.3h0M52.9 35.9h0M40.1 40.4h0M56.6 49.1h0M55.1 52.7h0M42.4 39.5h0M52.6 51.6h0M51.2 46h0M69.1 42.7h0M51.7 59.8h0M53.6 47.7h0M57.8 42.3h0M52.1 61.5h0M65.9 60.7h0M54.3 60.3h0M44.6 57.1h0M61 60.3h0M62.4 68.8h0M65.5 61.8h0M48.4 56.8h0M66.3 57.8h0M67 56.8h0M63.6 61.6h0M73.5 60.1h0M57.7 63.2h0M62.6 70.1h0M59 59.4h0M58.3 64.3h0M64.7 65.3h0M46 73.9h0M83.2 61.8h0M48 62.7h0M66.8 51.3h0M62.2 54.9h0M67.3 68.6h0M73.9 54.8h0M78 66.4h0M57.8 64.4h0M79.5 60.4h0M61.8 59.3h0M75.4 51.6h0M78.4 57.3h0M72.7 54.2h0M51.2 59.1h0M71.6 54.2h0M69 58.9h0M76.3 60.5h0M67.6 61.2h0M82.7 60.3h0M61.7 71.5h0M62.9 65.3h0M53.5 63h0M54.5 54.8h0M45.6 67.5h0M66.9 54.7h0M82.9 58.7h0M57.7 63.2h0M48.9 54.2h0M53.4 67.7h0M73 54.4h0M75.9 62.2h0M67.8 62.2h0M66.8 57.2h0M51.5 58.6h0M57.7 65h0M48 69.7h0M54.7 59.2h0M70.1 64.1h0M58.1 56.9h0M50.5 54.3h0M75.2 67.2h0M83.6 64.4h0M65.8 65.6h0M73 60.8h0M66.1 72.4h0M42.4 55.2h0M50.9 65.6h0M75.7 60.4h0M69.8 61.8h0M65.5 59.4h0M61.7 62h0M75.1 72.7h0M41 64.6h0M61.9 66.7h0M74.3 65.8h0M71.3 57.4h0M42.3 70h0M76 57.4h0M76.9 65.2h0M50.6 67.6h0M54.1 58.4h0M44.1 61h0M73.8 58.8h0M40.5 72.3h0M83.3 65.3h0M55.8 56.2h0M43.1 64.7h0M77 56.9h0M62 60.7h0M59 64.4h0M86.2 58.9h0M71.8 67.2h0M58.7 61.3h0M46.5 67.2h0M55.9 58.8h0M62.8 57.9h0M49.9 60.6h0M79.2 61h0M68.1 54.9h0M57.4 54.6h0M60.8 64.9h0M42 57.7h0M65 57.6h0M71.2 66.6h0M67.1 59.9h0M61.5 58.9h0M60.5 63.5h0M58.5 66.7h0M66 66h0M69.5 60.9h0M56.4 66.8h0M69.2 64.4h0M52.7 65h0M71.2 61.1h0M69.5 72.5h0M40.2 64.9h0M48.4 55.4h0M59.3 64.6h0M62.6 56.4h0M45.3 59.3h0M62.2 58h0M44.6 70.5h0M52.3 61.2h0M55.6 59.2h0M62.5 60.6h0M69.2 56.3h0M44.7 71.4h0M61.1 65.7h0M75.7 64.7h0M62.4 54.5h0M43.4 66.7h0M69.9 64.8h0M42.7 51.7h0M49.7 56.3h0M63.9 57.1h0M80.4 59h0M55.5 66.2h0M65.8 57.6h0M71.6 71.3h0M47.7 60.8h0M49.5 52.6h0M69.3 65.4h0M73.3 64.1h0M54.2 56.3h0M49.1 65.7h0M58.5 71.5h0M67.5 52.7h0M72.4 68.1h0M62.4 56.1h0M82.6 55.6h0M61 52.7h0M47.4 53.7h0M44.6 79h0M73.2 76.5h0M51.8 61.8h0M68.2 82.3h0M51.7 65.8h0M49.2 62.5h0M71.8 86.3h0M78.1 69.7h0M73 61.9h0M79.9 68.8h0M38.2 77h0M44.9 67.4h0M41 72h0M65.7 81.8h0M40 82.3h0M43.5 66.1h0M69.5 69.2h0M54.6 75.3h0M48.9 81.4h0M48.4 82.7h0M78.4 74.5h0M39.5 81h0M39.4 73.6h0M59.2 61.7h0M69.5 79.6h0M67.2 70.8h0M63.6 75.9h0M49.3 83.4h0M87.8 81.7h0M86.1 68.9h0M87.3 61.9h0M61.9 63.6h0M60.7 78.4h0M73.4 72.3h0M55.1 65.1h0M58.1 67.6h0M47.7 79.9h0M63.8 71.8h0M47.9 79h0M47.8 67.2h0M66 78.9h0M86.7 80.2h0M85.4 84.8h0M74.1 79.4h0M41.1 65.6h0M38.7 83.3h0M74.1 77h0M51.2 69.6h0M46.2 77.1h0M87.6 68.3h0M40.2 64.7h0M55.8 84.3h0M78.2 72.3h0M43.1 62.9h0M45.7 81h0M61.6 86.7h0M83.6 81.5h0M61.8 82.2h0M44.4 62.9h0M66.2 73.7h0M48.5 66.8h0M39.1 84.5h0M73.5 85.5h0M87 71.8h0M74.6 70.4h0M78.6 82.7h0M44.7 60.3h0M48.7 75.8h0M56.9 60.2h0M79.5 81.2h0M61.2 61.2h0M82.5 74.4h0M41.5 68.7h0M69.2 83.9h0M62.2 77.3h0M48.3 66.6h0M83.3 70.3h0M43.2 76h0M44.3 65.4h0M60.8 75.8h0M69.8 79.1h0M60 61.8h0M74.2 61.5h0M61.5 70.8h0M71.6 79.3h0M50 77.5h0M72.6 72.7h0M45.1 84.5h0M68 61.7h0M49.9 86.6h0M15 84.6h0M32.4 85.3h0M26.8 85h0M11 84.9h0M36.8 85h0M9.7 84.9h0M15.3 85.2h0M27.9 84.9h0M35.5 84.6h0M16 84.5h0M12.8 85.5h0M11.3 85.1h0M36.7 85h0M31.9 84.8h0M13.1 84.9h0M31.3 85h0M34.3 85h0M33.2 85h0M24.5 85.2h0M26.4 84.7h0M25.7 85h0M9.9 84.9h0M24.2 84.9h0M8.5 85.3h0M30.1 85.6h0M32 85.1h0M21.7 85.3h0M14.3 85.3h0M20.8 85.6h0M24.2 85.5h0M18.6 85.4h0M33.1 85.3h0M33.1 85.2h0M17.1 85.2h0M30.6 85.2h0M36.9 85.3h0M30.7 85.1h0M11.6 85h0M28.5 84.7h0M21.6 84.8h0M20.2 84.7h0M35.1 84.7h0M29.7 85.2h0M32.7 84.4h0M29.2 85.4h0M33.1 85.1h0M20.9 85.1h0M35.8 84.9h0M21.2 84.9h0M17.1 84.8h0M18.5 84.9h0M21.2 85.1h0M36.9 84.6h0M30.6 84.4h0M32.7 85.5h0M16.3 85h0M15.6 84.9h0M15 85h0M34.2 85.2h0M30.8 84.9h0" stroke="#262626" stroke-width="0.72" stroke-linecap="round" fill="none" opacity="0.85"/>
<ellipse cx="32.2" cy="33.8" rx="5.5" ry="5.5" fill="none" stroke="#777" stroke-width="0.5" opacity="1"/>
<path d="M43 53.3C41.28 53.55 39.3 55.72 38.3 58.5C37.3 61.28 37.15 66.25 37 70C36.85 73.75 36.82 78.3 37.4 81C37.98 83.7 38.4 85.4 40.5 86.2C42.6 87 46.42 86.03 50 85.8C53.58 85.57 57.83 85 62 84.8C66.17 84.6 71.33 84.87 75 84.6C78.67 84.33 81.83 84.63 84 83.2C86.17 81.77 87.23 78.87 88 76C88.77 73.13 88.77 68.92 88.6 66C88.43 63.08 88.13 60.33 87 58.5C85.87 56.67 83.55 55 81.8 55C80.05 55 77.75 56.92 76.5 58.5C75.25 60.08 75.55 62.78 74.3 64.5C73.05 66.22 71.22 67.88 69 68.8C66.78 69.72 63.5 70.03 61 70C58.5 69.97 55.8 69.77 54 68.6C52.2 67.43 51.1 64.93 50.2 63C49.3 61.07 49.8 58.62 48.6 57C47.4 55.38 44.72 53.05 43 53.3Z" fill="none" stroke="#666" stroke-width="0.5"/>
<path d="M43.19 54.59C41.85 54.78 40.34 56.36 39.52 58.94C38.71 61.52 38.44 66.42 38.3 70.05C38.16 73.68 38.23 78.24 38.67 80.73C39.11 83.21 39.09 84.36 40.96 84.99C42.84 85.61 46.42 84.75 49.92 84.5C53.41 84.26 57.77 83.7 61.94 83.5C66.1 83.3 71.35 83.53 74.91 83.3C78.46 83.07 81.31 83.39 83.28 82.12C85.26 80.84 86.07 78.34 86.74 75.66C87.41 72.99 87.44 68.82 87.3 66.07C87.16 63.33 86.81 60.81 85.89 59.18C84.98 57.55 83.2 56.28 81.8 56.3C80.4 56.32 78.6 57.81 77.52 59.31C76.45 60.8 76.69 63.48 75.35 65.27C74.01 67.05 71.89 69 69.5 70C67.1 71.01 63.68 71.35 60.98 71.3C58.28 71.25 55.29 70.98 53.29 69.69C51.3 68.4 49.98 65.53 49.02 63.55C48.07 61.56 48.53 59.27 47.56 57.77C46.58 56.28 44.53 54.39 43.19 54.59Z" fill="none" stroke="#666" stroke-width="0.5"/>
<path d="M43.36 55.77C42.37 55.92 41.3 56.96 40.65 59.35C40.01 61.73 39.63 66.58 39.5 70.1C39.36 73.62 39.53 78.18 39.84 80.47C40.16 82.77 39.72 83.39 41.39 83.86C43.06 84.34 46.42 83.57 49.84 83.31C53.25 83.05 57.72 82.5 61.88 82.3C66.04 82.1 71.36 82.3 74.82 82.11C78.28 81.91 80.83 82.24 82.62 81.11C84.42 79.99 85 77.85 85.58 75.35C86.17 72.86 86.22 68.73 86.1 66.14C85.99 63.55 85.59 61.25 84.87 59.81C84.16 58.37 82.87 57.46 81.8 57.5C80.73 57.54 79.38 58.64 78.46 60.05C77.55 61.46 77.74 64.13 76.32 65.97C74.9 67.82 72.51 70.02 69.96 71.11C67.4 72.2 63.85 72.57 60.97 72.5C58.08 72.43 54.81 72.11 52.64 70.7C50.47 69.29 48.94 66.09 47.93 64.06C46.93 62.02 47.35 59.87 46.59 58.49C45.83 57.11 44.35 55.63 43.36 55.77Z" fill="none" stroke="#666" stroke-width="0.5"/>
<ellipse cx="42.4" cy="71" rx="4.6" ry="14" fill="none" stroke="#555" stroke-width="0.5" opacity="1"/>
<ellipse cx="42.4" cy="71" rx="3.8" ry="11" fill="none" stroke="#555" stroke-width="0.5" opacity="1"/>
<ellipse cx="42.4" cy="71" rx="3" ry="8.5" fill="none" stroke="#555" stroke-width="0.5" opacity="1"/>
<ellipse cx="42" cy="79.3" rx="4.2" ry="4.83" fill="none" stroke="#333" stroke-width="0.6" opacity="1"/>
<ellipse cx="42" cy="79.3" rx="3.4" ry="3.91" fill="none" stroke="#333" stroke-width="0.6" opacity="1"/>
<ellipse cx="42" cy="79.3" rx="2.6" ry="2.99" fill="none" stroke="#333" stroke-width="0.6" opacity="1"/>
<ellipse cx="42" cy="79.3" rx="1.8" ry="2.07" fill="none" stroke="#333" stroke-width="0.6" opacity="1"/>
<ellipse cx="42" cy="79.3" rx="1" ry="1.15" fill="none" stroke="#333" stroke-width="0.6" opacity="1"/>
<ellipse cx="42" cy="79.3" rx="3.6" ry="4.2" fill="#555" stroke="none" stroke-width="0" opacity="0.45"/>
<ellipse cx="81.6" cy="70.8" rx="5.2" ry="11.5" fill="none" stroke="#555" stroke-width="0.5" opacity="1"/>
<ellipse cx="81.6" cy="70.8" rx="4.2" ry="9.5" fill="none" stroke="#555" stroke-width="0.5" opacity="1"/>
<ellipse cx="81.6" cy="70.8" rx="3.2" ry="7.5" fill="none" stroke="#555" stroke-width="0.5" opacity="1"/>
<ellipse cx="81.6" cy="70.8" rx="2.2" ry="5.5" fill="none" stroke="#555" stroke-width="0.5" opacity="1"/>
<ellipse cx="81.6" cy="70.8" rx="1.2" ry="3.5" fill="none" stroke="#555" stroke-width="0.5" opacity="1"/>
<ellipse cx="61" cy="76.5" rx="13" ry="3.6" fill="none" stroke="#666" stroke-width="0.5" opacity="1"/>
<ellipse cx="61" cy="76.5" rx="10" ry="2.3" fill="none" stroke="#666" stroke-width="0.5" opacity="1"/>
<rect x="0" y="0" width="111.3" height="111.5" fill="none" stroke="#b5b5b5" stroke-width="0.8"/>
<line x1="-2.8" y1="11.4" x2="0" y2="11.4" stroke="#333" stroke-width="0.7"/>
<line x1="-2.8" y1="37.5" x2="0" y2="37.5" stroke="#333" stroke-width="0.7"/>
<line x1="-2.8" y1="68" x2="0" y2="68" stroke="#333" stroke-width="0.7"/>
<line x1="-2.8" y1="85.7" x2="0" y2="85.7" stroke="#333" stroke-width="0.7"/>
<line x1="-2.8" y1="103.8" x2="0" y2="103.8" stroke="#333" stroke-width="0.7"/>
<path d="M-1.6 29.64H0M-1.6 25.05H0M-1.6 21.79H0M-1.6 19.26H0M-1.6 17.19H0M-1.6 15.44H0M-1.6 13.93H0M-1.6 12.59H0M-1.6 58.82H0M-1.6 53.45H0M-1.6 49.64H0M-1.6 46.68H0M-1.6 44.27H0M-1.6 42.22H0M-1.6 40.46H0M-1.6 38.9H0M-1.6 3.54H0M-1.4 70.5H0M-1.4 73H0M-1.4 75.3H0M-1.4 77.3H0M-1.4 79H0M-1.4 80.5H0M-1.4 91H0M-1.4 93H0M-1.4 95H0M-1.4 97H0M-1.4 99H0M-1.4 101H0M-1.4 106H0M-1.4 108H0" stroke="#333" stroke-width="0.6" fill="none"/>
<rect x="-3.1" y="83.4" width="2.9" height="4.6" fill="#111"/>
<text x="-5.6" y="12.7" class="tk" font-size="4.2" text-anchor="end">10<tspan dy="-1.3" font-size="3.0">5</tspan></text>
<text x="-5.6" y="38.8" class="tk" font-size="4.2" text-anchor="end">10<tspan dy="-1.3" font-size="3.0">4</tspan></text>
<text x="-5.6" y="69.3" class="tk" font-size="4.2" text-anchor="end">10<tspan dy="-1.3" font-size="3.0">3</tspan></text>
<text x="-5.6" y="87" class="tk" font-size="4.2" text-anchor="end">0</text>
<text x="-5.6" y="105.1" class="tk" font-size="4.2" text-anchor="end">-10<tspan dy="-1.3" font-size="3.0">3</tspan></text>
<path d="M0.6 111.5v2.8M21.2 111.5v2.8M41.8 111.5v2.8M63 111.5v2.8M83.7 111.5v2.8" stroke="#333" stroke-width="0.7" fill="none"/>
<path d="M4.74 111.5v1.5M8.88 111.5v1.5M13.02 111.5v1.5M17.16 111.5v1.5M25.44 111.5v1.5M29.58 111.5v1.5M33.72 111.5v1.5M37.86 111.5v1.5M46.14 111.5v1.5M50.28 111.5v1.5M54.42 111.5v1.5M58.56 111.5v1.5M66.84 111.5v1.5M70.98 111.5v1.5M75.12 111.5v1.5M79.26 111.5v1.5" stroke="#555" stroke-width="0.5" fill="none"/>
<text x="0.6" y="119.1" class="tk" font-size="4.0" text-anchor="middle">0</text>
<text x="21.2" y="119.1" class="tk" font-size="4.0" text-anchor="middle">50K</text>
<text x="41.8" y="119.1" class="tk" font-size="4.0" text-anchor="middle">100K</text>
<text x="63" y="119.1" class="tk" font-size="4.0" text-anchor="middle">150K</text>
<text x="83.7" y="119.1" class="tk" font-size="4.0" text-anchor="middle">200K</text>
<rect x="2.25" y="4.1" width="100.15" height="48.3" fill="none" stroke="#2a2a2a" stroke-width="0.9"/>
<line x1="38.65" y1="4.1" x2="38.65" y2="52.4" stroke="#222" stroke-width="1.5"/>
<text x="3.3" y="12.1" class="gt" font-size="8.4">SubG1</text>
<text x="3.3" y="22" class="gt" font-size="8.4">TAMRA+</text>
<text x="3.3" y="31.4" class="gt" font-size="8.4">3.88%</text>
<text x="101.6" y="11.8" class="gt" font-size="8.4" text-anchor="end">G1-S-G2</text>
<text x="101.6" y="21.7" class="gt" font-size="8.4" text-anchor="end">TAMRA+</text>
<text x="101.6" y="30.6" class="gt" font-size="8.4" text-anchor="end">2.75%</text>
</g>
<g transform="translate(88.1 241.7)">
<path d="M32.8 79.2h0M33.4 57h0M11.4 75.2h0M18 62.9h0M19.7 57.3h0M38.9 34h0M25 64.3h0M25.2 82.2h0M21 80.7h0M30.1 84h0M10.9 37.2h0M17.2 80.2h0M8.4 40.1h0M30.9 85.4h0M13.6 51.2h0M30 66.8h0M31.9 70.7h0M16 39.9h0M8.9 66.9h0M14.7 40.1h0M38.9 63.9h0M26.9 64.7h0M27.1 67.1h0M17.7 28h0M10.1 24.9h0M19.6 32.8h0M11.6 54.6h0M39 66.6h0M16.8 71.7h0M13.7 30.2h0M17.7 49.4h0M30.1 51.6h0M31.3 29.9h0M37.8 45.2h0M34.6 25.9h0M34.5 38h0M35.4 73.8h0M29.5 41.2h0M8.3 35.8h0M37 33.8h0M29.1 60.4h0M29.2 35.2h0M12.6 30h0M39.4 47.7h0M28.9 59.3h0M15.1 28h0M8.5 76.9h0M12.2 83.7h0M19.6 68.8h0M12.4 72.9h0M16.1 46.7h0M24.7 30.9h0M15.9 73.3h0M17.1 47.6h0M32.5 37.9h0M14.2 37.6h0M20.3 46.7h0M28.5 53.3h0M35.8 27.1h0M29.2 75.9h0M15.5 25.8h0M22 31.2h0M22.7 68.1h0M11 31.3h0M23.3 34.8h0M15.4 51.3h0M11.8 28.2h0M19.6 53.1h0M38 58.4h0M10.3 37.8h0M31.8 58.9h0M35.8 83.7h0M35.5 30.8h0M38.2 56.5h0M15.7 34.6h0M35.7 37.2h0M10.7 40.4h0M37.6 52.6h0M31.4 28.6h0M22.5 43.7h0M14.6 65.1h0M19.6 31.4h0M39.5 53.9h0M13.8 24.7h0M28.9 55.9h0M8.8 53.2h0M31.7 57.3h0M15.5 54.9h0M27.4 64.4h0M12.6 73.8h0M38.3 69.9h0M35.4 46.8h0M36.9 35.3h0M15.3 61.1h0M36.9 29.1h0M14.9 26.2h0M22 32.7h0M14.1 70.4h0M26.7 82.2h0M20.9 66.1h0M8.4 82.8h0M15.5 53.6h0M24.4 82.8h0M23.7 85.5h0M27.9 37.4h0M34.7 36.5h0M40 52.3h0M15.2 83.6h0M18.3 49.2h0M19 65.5h0M8.7 47.2h0M13.2 75.3h0M8 61.7h0M16.3 52.2h0M26 68.1h0M12.4 38.9h0M11.9 83.5h0M12.8 32.5h0M24.7 60h0M36.4 27.5h0M50.8 29.4h0M66.9 41.9h0M58.8 61.1h0M70.4 59.8h0M84 33.8h0M83.3 39.9h0M42.4 62.3h0M44.8 22.8h0M53.3 34.7h0M84.5 60.3h0M59.3 45.3h0M79 57.5h0M70.1 44.6h0M45.4 32.7h0M70.3 47.8h0M76.8 61.5h0M84.3 30.5h0M43.5 61.5h0M66.2 30h0M71.8 33.2h0M50.9 38.1h0M64.1 51.8h0M43.4 54.6h0M68.7 42.8h0M70.9 57.2h0M40.4 42.9h0M71.2 53.2h0M69.8 29.9h0M84.1 56.6h0M50.7 40.9h0M84.1 31.1h0M58.8 64.3h0M81.4 32.2h0M73.8 37.8h0M70.5 55.7h0M45.9 31.8h0M49.9 33.7h0M41.6 28h0M58.7 40.5h0M43.6 47.6h0M83.3 47.4h0M56.4 53h0M60.1 29.7h0M62.2 22.8h0M71.1 29.1h0M57 64.3h0M75.3 58.8h0M69.5 49.9h0M72.4 64.5h0M49 55.7h0M53.8 33.3h0M77.8 48.4h0M79.1 60.5h0M67.1 30.7h0M40.7 45.5h0M73.4 34h0M43.2 22.2h0M48 52.6h0M40.2 32.1h0M52.2 53.3h0M85.4 22.8h0M45.3 63.1h0M84.6 28.5h0M55.4 45h0M54.7 40.4h0M62 33.4h0M42.5 25.7h0M47.5 26h0M68.7 52.7h0M52.1 56.8h0M73.5 37h0M62.6 30.3h0M82.7 46.7h0M42.4 28.8h0M71.9 39h0M73 32.1h0M76.7 57.3h0M44.3 47.8h0M48.8 53.1h0M77 56.8h0M50.6 26.1h0M70.5 46.9h0M46.4 30.5h0M66.8 26.7h0M69.2 32.6h0M51.9 40.6h0M64.5 53.9h0M41.4 53.9h0M50.2 34.8h0M69.4 52.4h0M68.3 61.7h0M49.4 35.7h0M70.5 33.5h0M47.2 32h0M75.5 58.4h0M74.4 87.1h0M78.1 72.8h0M55.1 81.9h0M42.7 79.4h0M44.3 67.1h0M64.7 69.3h0M84.7 85.3h0M62.2 70.3h0M45.7 77.1h0M65 74h0M74.4 77.6h0M77.2 68.3h0M43.4 74.5h0M63.2 71.6h0M72.1 70.9h0M55.3 76.5h0M74.2 82.9h0M57.8 75.8h0M84.5 86.5h0M69.7 68.3h0M61.9 80h0M53.4 66.8h0M87.1 86h0M46.2 76.2h0M69.7 72.6h0M43.3 82.5h0M77 75.6h0M44.1 74.7h0M44.5 87.2h0M42.5 72.3h0M76.9 69h0M45.1 67.6h0M47.9 77.7h0M80 69.7h0M48.3 82.8h0M60.4 73.4h0M10.7 85.3h0M10.6 86.1h0M13.7 85.3h0M27.9 84.7h0M18.4 85.7h0M14.4 85.2h0M18.2 85.2h0M10.9 84.8h0M12.3 85.4h0M25.9 85.3h0M15.5 85.3h0M18.3 85.5h0M29.8 85.7h0M15.1 85.8h0M11.8 85.3h0M12.1 85h0M17.2 85.6h0M20.6 84.8h0M8.2 85.3h0M27.8 84.9h0M28.9 85h0M26 85.8h0M13.9 85.1h0M15.8 85.5h0M16.3 85.5h0M28 85.4h0M40.7 62.5h0M42.4 51.4h0M41.6 71.5h0M42.2 40.7h0M41.3 48h0M41.7 53.8h0M41.1 53.1h0M41.7 55.3h0M40.9 56.7h0M41.8 53h0M42.3 48.3h0M41.8 55.7h0M42.6 54.3h0M41 50.2h0M42.9 61.6h0M40.8 56h0M40.8 66.9h0M41.8 46.1h0M41.6 63.3h0M41.5 60.8h0M41.4 59.2h0M41.6 53.9h0M41.7 59h0M41.5 54h0M40.8 59.4h0M42.1 43.9h0M41.1 65.9h0M42.1 53.8h0M42.4 52.2h0M41 69.3h0M79 54.9h0M77.6 51.1h0M78.1 55.3h0M77.4 61.2h0M79.1 53.1h0M78.8 59.6h0M81.3 54h0M81.4 63.8h0M81.1 57.5h0M77.8 59.3h0M79 56.9h0M77.3 54.6h0M79.8 51.4h0M79.8 64.1h0M79.8 52.7h0M82.3 45.5h0M78.4 58h0M78.8 44.8h0M79.8 60h0M78.6 63.1h0M80.1 61.8h0M77.7 56h0M81.4 65.8h0M81 56h0M79.7 52.9h0M80.8 52.6h0M79.6 45.9h0M77.7 64.7h0M79.6 57h0M76.9 55.8h0" stroke="#444" stroke-width="0.64" stroke-linecap="round" fill="none" opacity="0.62"/>
<path d="M53.9 75h0M48.2 72.3h0M48.4 77h0M57.6 77.4h0M49.6 76.9h0M54.5 75.7h0M55.3 71.6h0M58.5 77.3h0M53.1 75.3h0M61.2 78.5h0M55.6 71.6h0M55 71.8h0M55.8 80h0M60.3 75.1h0M60.6 76h0M61.5 72h0M51 79h0M58.2 77.1h0M53 74.1h0M61 76.9h0M54.2 78.1h0M61.7 78h0M52.8 75.8h0M54.3 74.8h0M59.5 76.3h0M51.7 69.5h0M51.9 76.8h0M51.4 76.5h0M55.1 73.3h0M67.2 79.4h0M57.2 75.4h0M65.6 72.4h0M51.1 78.2h0M51.9 76.3h0M46.9 74.3h0M56.2 69.7h0M66.4 72.1h0M47.8 73.6h0M47.7 80.4h0M50.3 74.8h0M59.6 76.6h0M69.5 72.9h0M48.7 75.9h0M46.9 79.4h0M52.2 77.9h0M50.9 75.8h0M49.7 77.6h0M59.4 73.7h0M52.6 77.2h0M46.5 79.5h0M51.8 75h0M50.7 79.4h0M64.5 78.6h0M61.5 76.9h0M56.7 71.7h0M73.4 78.4h0M53.2 76.1h0M57.8 70.8h0M55.3 76.2h0M67.3 72.6h0M60.6 75.7h0M59.2 75.9h0M55.1 72.2h0M61.6 76.4h0M62.6 78.5h0M48.1 69.9h0M50.7 76.5h0M57.9 77.2h0M56.6 74.1h0M60 76.7h0M50.2 78.7h0M57.1 74.9h0M50.2 74.3h0M53.8 77.6h0M61.1 76.7h0M48.9 78h0M60.2 72.7h0M47.8 77.3h0M46.3 73.9h0M52.8 74.1h0M53.5 76.8h0M61.5 71.2h0M52.4 79.2h0M57.2 78.8h0M66.6 79.5h0M51.6 75.6h0M60.9 75h0M66 78.8h0M50.8 74.2h0M61.1 75.1h0M58.6 74.4h0M57.3 76.7h0M57.1 73.7h0M56.6 72.1h0M57 73.9h0M54.3 73.9h0M48.7 76.9h0M62.8 71.7h0M54 75.7h0M58 74.2h0M56.9 74.8h0M57.7 74.2h0M52.9 73.7h0M58.1 79.9h0M59.7 75.1h0M49.2 76.1h0M55.5 71.7h0M47.7 80.1h0M59.7 76.7h0M59.6 74.4h0M61.7 78.1h0M55.5 76.7h0M59.4 73.7h0M51.3 73.3h0M72.4 78.6h0M62.1 72.1h0M57.8 73.8h0M64.5 78.6h0M50.3 74.7h0M60.1 76.6h0M48.8 76h0M57.1 77.8h0M54 74.7h0M51.4 74.9h0M50.9 73.3h0M51.3 73.3h0M65.7 72.8h0M51 78h0M51.4 81.5h0M58.8 81.9h0M59 75.6h0M52.9 75h0M54 75.4h0M64.2 72.4h0M50.7 70.5h0M57.9 75.4h0M57 75.4h0M64.5 79.6h0M72.9 78.8h0M56.2 80.4h0M51 75.3h0M57 74.7h0M68.9 69.6h0M68.2 78h0M57.4 76.8h0M50.3 78.2h0M55.3 74.3h0M56.5 72.5h0M47.1 79.5h0M57.9 76.8h0M60.5 76.6h0M48.8 74.1h0M49.5 77.1h0M60.8 75.6h0M52.8 76.3h0M58.3 73.7h0M60.7 73.9h0M52.5 76.9h0M58.5 73.8h0M50.7 71.5h0M49 76.3h0M59.3 76.3h0M51.9 76.5h0M58.2 76.9h0M55.6 77.5h0M53.7 76.1h0M61.9 75.8h0M64.6 72.7h0M64.2 78.3h0M56.1 76.5h0M57.4 71.7h0M53.2 75.4h0M53.9 73.3h0M56.1 74.6h0M58.6 75.4h0M59.4 77.9h0M59.1 76.5h0M48.2 68.4h0M54.8 77.1h0M55.3 74h0M48.1 77.6h0M53.8 76.1h0M52.8 75.6h0M53.5 73h0M60.4 73.6h0M53.6 75.7h0M53.9 75.6h0M53.1 72.1h0M59.2 74.4h0M56.8 76.2h0M46.9 73.6h0M50.9 78.5h0M49.5 78.3h0M54.3 82h0M57.4 75.6h0M65.5 72.9h0M67.1 79.5h0M57.2 74.3h0M49.3 77.9h0M60.4 75.5h0M39.5 82.8h0M43.1 75.9h0M44.1 72h0M43.1 71.8h0M44 74.8h0M43.7 74.3h0M42.3 80.8h0M40.1 76.4h0M40.2 79.6h0M40.6 74.4h0M41.3 80.9h0M39.8 75.9h0M41 73.7h0M40.3 75.3h0M41.9 69.5h0M42 71h0M41.6 85.6h0M40 75.7h0M41.2 80.1h0M40.8 68.5h0M38.9 76.7h0M42 80.5h0M40.7 78.8h0M39.8 81.4h0M41.5 73.2h0M41.9 83.3h0M40.2 70.8h0M39.9 71.1h0M41.5 77.5h0M41.3 76.8h0M43.6 74.8h0M39.5 66.4h0M42 73.1h0M41.2 77.7h0M42.4 69.4h0M40 76.3h0M41.4 80.8h0M40.7 67.3h0M43.6 69.1h0M40 77.6h0M39.8 86.5h0M42 78.2h0M40.9 85.3h0M42.5 73h0M43.7 68.9h0M40.6 77.2h0M41.8 72h0M44.3 82.2h0M40 77.6h0M40.5 74.2h0M43.3 76.5h0M41.4 76.4h0M39.6 81.1h0M40.3 81.5h0M40.8 74.1h0M44.1 76.8h0M40.5 73.8h0M42.6 83.9h0M42.6 74.3h0M39.7 73.2h0M41.4 77h0M40.5 81.4h0M40 73h0M42.4 78h0M40.9 80h0M39.2 82.9h0M45.3 84.2h0M41.8 84.3h0M41.7 81.6h0M41.3 76.8h0M42.5 68.7h0M41.2 83.2h0M36.6 77.6h0M43.2 77.4h0M41.9 81.8h0M42.2 68.1h0M40 74.8h0M41.8 74.1h0M41.4 83h0M36.6 80.8h0M43.2 78.5h0M41.6 76.3h0M42.2 77h0M40.4 79.3h0M40.2 75.8h0M41 71.2h0M42.6 75.7h0M39.6 75.7h0M39.3 82h0M42.5 84.3h0" stroke="#222" stroke-width="0.7" stroke-linecap="round" fill="none" opacity="0.85"/>
<ellipse cx="41.6" cy="76.6" rx="3.9" ry="9.3" fill="none" stroke="#444" stroke-width="0.55" opacity="1"/>
<ellipse cx="41.6" cy="76.6" rx="3.1" ry="7.7" fill="none" stroke="#444" stroke-width="0.55" opacity="1"/>
<ellipse cx="41.6" cy="76.6" rx="2.3" ry="6" fill="none" stroke="#444" stroke-width="0.55" opacity="1"/>
<ellipse cx="41.6" cy="76.6" rx="1.5" ry="4.2" fill="none" stroke="#444" stroke-width="0.55" opacity="1"/>
<ellipse cx="41.6" cy="76.6" rx="0.8" ry="2.4" fill="none" stroke="#444" stroke-width="0.55" opacity="1"/>
<ellipse cx="41.6" cy="77" rx="2.6" ry="6.5" fill="#666" stroke="none" stroke-width="0" opacity="0.3"/>
<ellipse cx="79.6" cy="72" rx="5.4" ry="7.6" fill="none" stroke="#808080" stroke-width="0.5" opacity="1"/>
<ellipse cx="79.6" cy="72" rx="4.4" ry="6.4" fill="none" stroke="#808080" stroke-width="0.5" opacity="1"/>
<ellipse cx="79.6" cy="72" rx="3.4" ry="5.2" fill="none" stroke="#808080" stroke-width="0.5" opacity="1"/>
<ellipse cx="79.6" cy="72" rx="2.4" ry="4" fill="none" stroke="#808080" stroke-width="0.5" opacity="1"/>
<ellipse cx="79.6" cy="72" rx="1.4" ry="2.6" fill="none" stroke="#808080" stroke-width="0.5" opacity="1"/>
<path d="M46 70 C56 69 66 66 75 64.6 M46 82.5 C56 82 66 81 75 79.6 M50 76 C58 75.5 64 74.5 72 72.5 M50 77.5 C58 77.5 64 78 72 77.6" fill="none" stroke="#666" stroke-width="0.5"/>
<rect x="0" y="0" width="111.3" height="111.5" fill="none" stroke="#b5b5b5" stroke-width="0.8"/>
<line x1="-2.8" y1="11.4" x2="0" y2="11.4" stroke="#333" stroke-width="0.7"/>
<line x1="-2.8" y1="37.5" x2="0" y2="37.5" stroke="#333" stroke-width="0.7"/>
<line x1="-2.8" y1="68" x2="0" y2="68" stroke="#333" stroke-width="0.7"/>
<line x1="-2.8" y1="85.7" x2="0" y2="85.7" stroke="#333" stroke-width="0.7"/>
<line x1="-2.8" y1="103.8" x2="0" y2="103.8" stroke="#333" stroke-width="0.7"/>
<path d="M-1.6 29.64H0M-1.6 25.05H0M-1.6 21.79H0M-1.6 19.26H0M-1.6 17.19H0M-1.6 15.44H0M-1.6 13.93H0M-1.6 12.59H0M-1.6 58.82H0M-1.6 53.45H0M-1.6 49.64H0M-1.6 46.68H0M-1.6 44.27H0M-1.6 42.22H0M-1.6 40.46H0M-1.6 38.9H0M-1.6 3.54H0M-1.4 70.5H0M-1.4 73H0M-1.4 75.3H0M-1.4 77.3H0M-1.4 79H0M-1.4 80.5H0M-1.4 91H0M-1.4 93H0M-1.4 95H0M-1.4 97H0M-1.4 99H0M-1.4 101H0M-1.4 106H0M-1.4 108H0" stroke="#333" stroke-width="0.6" fill="none"/>
<rect x="-3.1" y="83.4" width="2.9" height="4.6" fill="#111"/>
<text x="-5.6" y="12.7" class="tk" font-size="4.2" text-anchor="end">10<tspan dy="-1.3" font-size="3.0">5</tspan></text>
<text x="-5.6" y="38.8" class="tk" font-size="4.2" text-anchor="end">10<tspan dy="-1.3" font-size="3.0">4</tspan></text>
<text x="-5.6" y="69.3" class="tk" font-size="4.2" text-anchor="end">10<tspan dy="-1.3" font-size="3.0">3</tspan></text>
<text x="-5.6" y="87" class="tk" font-size="4.2" text-anchor="end">0</text>
<text x="-5.6" y="105.1" class="tk" font-size="4.2" text-anchor="end">-10<tspan dy="-1.3" font-size="3.0">3</tspan></text>
<path d="M0.6 111.5v2.8M21.2 111.5v2.8M41.8 111.5v2.8M63 111.5v2.8M83.7 111.5v2.8M105 111.5v2.8" stroke="#333" stroke-width="0.7" fill="none"/>
<path d="M4.74 111.5v1.5M8.88 111.5v1.5M13.02 111.5v1.5M17.16 111.5v1.5M25.44 111.5v1.5M29.58 111.5v1.5M33.72 111.5v1.5M37.86 111.5v1.5M46.14 111.5v1.5M50.28 111.5v1.5M54.42 111.5v1.5M58.56 111.5v1.5M66.84 111.5v1.5M70.98 111.5v1.5M75.12 111.5v1.5M79.26 111.5v1.5M87.54 111.5v1.5M91.68 111.5v1.5M95.82 111.5v1.5M99.96 111.5v1.5M108.24 111.5v1.5M112.38 111.5v1.5" stroke="#555" stroke-width="0.5" fill="none"/>
<text x="0.6" y="119.1" class="tk" font-size="4.0" text-anchor="middle">0</text>
<text x="21.2" y="119.1" class="tk" font-size="4.0" text-anchor="middle">50K</text>
<text x="41.8" y="119.1" class="tk" font-size="4.0" text-anchor="middle">100K</text>
<text x="63" y="119.1" class="tk" font-size="4.0" text-anchor="middle">150K</text>
<text x="83.7" y="119.1" class="tk" font-size="4.0" text-anchor="middle">200K</text>
<text x="105" y="119.1" class="tk" font-size="4.0" text-anchor="middle">250K</text>
<rect x="2.25" y="4.1" width="100.15" height="48.3" fill="none" stroke="#2a2a2a" stroke-width="0.9"/>
<line x1="38.65" y1="4.1" x2="38.65" y2="52.4" stroke="#222" stroke-width="1.5"/>
<text x="4" y="12.1" class="gt" font-size="8.4">SubG1</text>
<text x="4" y="22" class="gt" font-size="8.4">TAMRA+</text>
<text x="4" y="31.4" class="gt" font-size="8.4">0.47%</text>
<text x="101.1" y="11.8" class="gt" font-size="8.4" text-anchor="end">G1-S-G2</text>
<text x="101.1" y="21.7" class="gt" font-size="8.4" text-anchor="end">TAMRA+</text>
<text x="101.1" y="30.6" class="gt" font-size="8.4" text-anchor="end">0.66%</text>
</g>
<g transform="translate(263.8 238.8)">
<path d="M19.4 41.5h0M27.7 56.7h0M17.1 24.7h0M38.6 43.7h0M11.7 63h0M25 40.9h0M18.5 75.6h0M18.8 47h0M38.6 43.2h0M20.9 29.9h0M29.2 63.5h0M22.3 46.2h0M15.4 71.9h0M22.6 74.7h0M20 68.1h0M8.9 33.7h0M38.7 64.7h0M29.6 52.3h0M23.1 32.2h0M13.5 62.2h0M30.2 36.3h0M28.6 28.1h0M27.6 30.5h0M24.3 40h0M25.6 28h0M23.5 60.3h0M12.3 39.7h0M29.7 55.6h0M27.7 71.3h0M26.3 33.9h0M22.2 74.6h0M26.1 69.5h0M19.6 49h0M39 74.1h0M28.9 26.1h0M27.6 21.2h0M37.9 84.1h0M31.3 36.9h0M35.1 30.9h0M34.5 53.9h0M8.5 78.6h0M22.1 74.6h0M30 54.7h0M35.6 32.6h0M36.8 41.7h0M8.8 41.6h0M10.1 23.8h0M28 27.1h0M13.1 38.6h0M16.9 80.6h0M37 77.3h0M39.7 48.5h0M33.5 37.8h0M37.6 73.3h0M31.4 34.3h0M10.9 81h0M25.7 60h0M35.6 28.6h0M30.4 50.1h0M33.2 49.5h0M14.3 83.1h0M17 68.9h0M34.6 35.6h0M30.2 45.5h0M15.2 33.6h0M38.5 43.7h0M24.3 52.6h0M8.9 69.5h0M31.8 77.7h0M19.4 33.1h0M19.1 68.1h0M29.1 46.2h0M24.8 29.3h0M37.4 50.6h0M24.2 71.7h0M14.3 67.4h0M19.3 73.4h0M11 37.5h0M28.3 51.3h0M20.1 57.8h0M15 48.3h0M8.1 72.5h0M16.1 74.7h0M25.7 59.3h0M28 27.4h0M32.9 38.6h0M35.6 71.7h0M29.7 73.6h0M22 64.1h0M38.5 31.7h0M11.2 46.6h0M24.3 29h0M15.1 77.1h0M20.4 29h0M13.9 57.7h0M14.1 50.8h0M25.2 48.5h0M24.1 75.1h0M8.5 81.3h0M14.4 21.6h0M32.6 57.2h0M25.2 33.6h0M33 39.5h0M31.3 34.3h0M26.3 62.4h0M19.9 51.2h0M10.1 62.1h0M30.1 29.3h0M25.6 68.1h0M11.2 75.2h0M35.9 22.4h0M15.9 24.6h0M16.1 24.8h0M23.7 35.8h0M17.6 49.9h0M19.9 71.8h0M31.1 26.6h0M15.2 19.6h0M18.5 26.2h0M30.3 71.3h0M39.9 33h0M9.2 69.7h0M21.2 81.4h0M20.6 39.9h0M10.3 82.5h0M24.4 48.5h0M22 70.5h0M34.6 50.9h0M13.7 46.2h0M36.5 46.3h0M29.1 56.5h0M22.8 57.5h0M15.8 56.3h0M35.7 24.4h0M19.8 78h0M39.3 19.9h0M28.1 61.3h0M35 50.5h0M12.2 39.1h0M30.8 67.8h0M14.5 62.1h0M29 63.1h0M8.7 48.6h0M18.4 59h0M18.8 27.6h0M29.5 38.2h0M33.3 39.5h0M25.5 73.1h0M11.7 68h0M10.2 81.7h0M8.8 67.5h0M19.8 31h0M20.6 52.6h0M21.3 27.2h0M24.7 39.1h0M39 44.7h0M21.9 34.3h0M39 40.6h0M28.7 74.8h0M20.6 69.6h0M16.9 26.3h0M9.4 49.1h0M36 32.6h0M22.1 70.1h0M16.8 29.2h0M24.6 47.5h0M38 79.1h0M15.6 56.6h0M21.3 21.3h0M22.2 80.3h0M54.2 45h0M73.4 20.9h0M83.4 23h0M54.2 50.9h0M40.9 35.3h0M46 39.8h0M40.7 25h0M50.5 21.7h0M44.3 26.9h0M64.3 24.3h0M78.6 37.2h0M51.8 29.1h0M79.5 20.2h0M74.9 22.5h0M84.4 36.8h0M68.1 57.7h0M44.7 20.9h0M72.6 45h0M73.9 30.8h0M63.4 26.6h0M60.5 31h0M67.5 31.8h0M52.9 47.6h0M44 54.9h0M63.3 28.5h0M45.4 41.4h0M63.7 51.1h0M57.6 37h0M82 30.6h0M86.1 59.1h0M86.5 61.4h0M52.1 55.5h0M68.8 27.4h0M86.9 47.8h0M78.1 43.7h0M43.7 57.7h0M48.2 29.9h0M69 26.9h0M61.7 50.8h0M44.5 48.4h0M44.9 39.9h0M70.5 49.6h0M42 26.8h0M85.1 36h0M60 35.2h0M72.7 52.1h0M70.6 36.5h0M66.8 41.7h0M48.8 61.7h0M85.3 53.8h0M86.7 39.4h0M79.4 29.1h0M74.9 50.9h0M84.1 56.3h0M81.3 30.3h0M77 39.9h0M54.7 34.9h0M77.5 56.8h0M79.7 48.8h0M48 25.2h0M66.7 27.8h0M55.8 22.7h0M47.3 51h0M50.5 57h0M55.5 57h0M54.2 30.3h0M58.6 18.6h0M60.5 35.5h0M40.6 57.6h0M57.6 18h0M85.1 28.5h0M51.9 19.1h0M44.7 50.6h0M67.4 41.2h0M51.6 31.2h0M85.6 35.1h0M86.5 58.8h0M45.9 57h0M41 50.7h0M78.1 50h0M65.8 55.4h0M47.3 42.8h0M52.5 36.4h0M49 50.6h0M66.9 53.8h0M69.5 45.6h0M83.3 55.4h0M66.6 33h0M83.6 35.1h0M44.8 33.3h0M73.2 60.8h0M70.3 48.5h0M84.1 53.8h0M60.9 39.2h0M75.7 32.6h0M45.2 46.5h0M78 29.4h0M72.1 59.1h0M46 24.2h0M63.2 33.4h0M84.6 63.8h0M60.9 54.5h0M69.7 26h0M85.7 26h0M43.6 38.8h0M40.8 40.1h0M59.4 61.9h0M59.4 57.1h0M76.6 45h0M51.2 32h0M63.1 36.2h0M70.3 41.2h0M55.2 45.9h0M86.8 27.3h0M55.8 18.6h0M44.4 20.6h0M59.9 56.5h0M72.8 62.4h0M79.3 45h0M67.3 18.6h0M59.2 70.3h0M71 65.6h0M67.1 73h0M64.6 73.7h0M45.1 81.6h0M80 78.4h0M45.8 78.4h0M83.6 87.7h0M77.9 65.1h0M83.9 80h0M53.8 86.1h0M81.3 85.5h0M52.4 77.8h0M58.9 71.1h0M78.1 78.8h0M56.6 77h0M86.4 77.6h0M85.7 77.6h0M89.6 64.7h0M63 77.3h0M76.3 87.2h0M71.2 75.5h0M71.7 76.8h0M75.2 86.7h0M40.7 71.7h0M83.8 65.4h0M79.5 64.7h0M72.4 83.2h0M51.9 73.1h0M51.3 80.9h0M66.4 78.5h0M56.3 78.1h0M87.7 82.7h0M87.6 69.9h0M65.8 73.3h0M57.3 83.3h0M12.9 84h0M34.2 84.3h0M8.5 84.5h0M34.2 84.8h0M12.6 84.7h0M23.3 84.2h0M34 84.7h0M12.4 84.6h0M11.7 84.3h0M24.3 84.9h0M11.4 84.6h0M12 84.2h0M31 84.6h0M34.3 84.3h0M30.7 84.5h0M32.3 84.5h0M31.1 84.9h0M29.6 84.8h0M25.7 84.9h0M17.2 83.7h0M31.3 84.7h0M27.1 84.4h0M27.2 84.7h0M15.7 84.2h0M15 84.3h0M32.1 84.5h0M32.9 84.5h0M26.8 85h0M11.4 84.6h0M16.6 84h0M10.7 84.4h0M21.1 85h0M30.8 84.6h0M17.8 84.6h0M32.6 84.6h0M29.1 84.6h0M10.6 84.4h0M14.9 84.4h0M26.6 84.7h0M20.6 84.3h0M42.8 56.9h0M42.3 64.8h0M41.9 47.5h0M41.1 54.5h0M42.7 59.5h0M42 59.9h0M42.2 52.5h0M41.9 59.6h0M42.9 50.6h0M41.5 56.6h0M43.7 50.4h0M41.3 58h0M42.5 53.1h0M42.2 58.3h0M41 55.9h0M42.6 60.4h0M43 55.7h0M41.2 62.4h0M42.7 53h0M42.9 61h0M42.1 44.7h0M41.9 52.4h0M41.6 55.6h0M41.5 57.9h0M43.5 50.3h0M42.9 53.5h0M42.6 55.4h0M43.1 52.6h0M42.7 52.3h0M42.4 55.9h0M42.9 48.4h0M41.3 62.7h0M42.5 64.1h0M41.5 57h0M42.6 64.5h0M42.2 53.9h0M42.7 55.5h0M41.7 59.7h0M40.9 51.1h0M43.1 53.6h0M79.8 58.4h0M81.6 59h0M79 54.8h0M81.5 56.5h0M79.4 60.4h0M81.7 65.3h0M78.8 54.3h0M79.3 58.4h0M79.6 61.3h0M76.8 60.7h0M79.4 55.9h0M80.9 57.8h0M78.9 62.8h0M80.9 55.1h0M80.5 52.8h0M78.6 55.8h0M80.7 57.4h0M79.2 51.7h0M78.1 63.1h0M80.7 53.9h0M81.7 59.1h0M79.7 54.6h0M81.6 58.3h0M82.3 58.4h0M79.5 54.7h0M79.3 58h0M80.5 59.3h0M80.8 53h0M79.9 53.4h0M80.8 52h0M79.5 53.7h0M79.4 56h0M82.1 56h0M78.4 55.8h0M81.1 59.1h0M80.5 64.6h0M81.6 57.4h0M81.7 51.9h0M80 53.7h0M80.4 63.2h0" stroke="#444" stroke-width="0.64" stroke-linecap="round" fill="none" opacity="0.62"/>
<path d="M57.7 72.1h0M53.1 71.9h0M47.2 69.3h0M70.7 70.2h0M63.3 70.3h0M63.6 70.1h0M53.4 70h0M63 69.3h0M66.1 72.3h0M47.6 69.7h0M59.5 70.3h0M62.8 69.5h0M61.7 70.3h0M61.2 72.1h0M63.1 68.6h0M48.3 71h0M59 69.6h0M50.1 69.9h0M61.2 69.5h0M58.9 71.3h0M68.9 70.9h0M60.5 68.7h0M68.8 72h0M73.2 71.6h0M64.4 70.7h0M61.9 71.7h0M59.7 72.8h0M68.8 69.9h0M62 68.4h0M55.6 70h0M70 70.4h0M59.4 71h0M61.5 70.5h0M67.8 69.7h0M63.1 70.9h0M58.9 70.7h0M64.9 71.1h0M53.4 69.7h0M58.3 71.7h0M64.2 68.4h0M50.8 72.5h0M65 68.8h0M54 70.5h0M74.5 72.2h0M58.8 70h0M75.7 70.7h0M62.8 71.8h0M66.2 69.3h0M48.7 70.3h0M66.5 71.9h0M67.4 72h0M69 70.5h0M65.8 70.8h0M56.5 70.2h0M63.1 69.8h0M49.2 68.6h0M66.4 70.9h0M62.9 69h0M69.4 69.8h0M49 72.9h0M66.7 69.8h0M74.9 71.9h0M64.3 68.3h0M58.7 70h0M66 70.2h0M65 68.4h0M56.4 72h0M49.3 71.4h0M49.9 71.7h0M58.4 71.7h0M72.3 70.5h0M77.7 71.4h0M57.8 69.2h0M65.6 70.2h0M57.9 68.4h0M60.7 70.2h0M70.6 69.7h0M48.3 69.1h0M61.7 70.6h0M68.3 69.9h0M66.7 70.5h0M76.8 70.2h0M63.3 71h0M72.7 69.2h0M57.9 70h0M71.4 70.3h0M69.9 68.7h0M75.4 70.8h0M51.5 70.4h0M68.6 71.4h0M63.5 69.7h0M68.7 69.4h0M61.3 71.2h0M49.4 70.7h0M51.2 70.2h0M68.3 70.2h0M70 70.4h0M60.2 70.9h0M59.9 70.5h0M71.1 69.6h0M72.1 69h0M60.1 68.3h0M57.4 72.1h0M65.1 71.8h0M49.2 69.1h0M66.1 71.3h0M69.3 68.4h0M66.5 70.2h0M63.1 70.9h0M59.6 68.3h0M50.7 78.6h0M48.5 79.9h0M71.4 79.3h0M53.3 78.9h0M55.8 79.8h0M51.6 80.5h0M49.5 80.5h0M54.2 80.8h0M52.2 80.4h0M63.9 79.9h0M74.3 80.2h0M52.2 80.7h0M52.8 79.5h0M60.1 80.2h0M74.9 78.3h0M57.7 81.1h0M58.6 80.3h0M73.4 78.8h0M60.4 80.8h0M54.9 78.3h0M51.3 80.2h0M61.7 81.8h0M71.6 78.5h0M69.1 80.9h0M74.2 79.9h0M55.1 80.1h0M73.6 80.6h0M74.9 80.8h0M54.8 79h0M76.2 78.5h0M56.9 79.7h0M52 79.4h0M60.1 82.3h0M59.4 79.5h0M61.1 80.9h0M52.8 79.6h0M66 81.5h0M49.5 82.1h0M67.7 79.7h0M56.6 79.7h0M49.4 80.7h0M54.7 79.3h0M64.5 80.1h0M54.9 79.8h0M55.7 81.3h0M68.8 79.3h0M59.6 81.3h0M57.5 81.7h0M63.9 80.6h0M63 80.6h0M64.2 80.5h0M55.5 80.9h0M60.6 79h0M51.1 80.2h0M62.9 77.9h0M59.9 82.8h0M54.7 80.5h0M72.4 81.6h0M51.1 81.2h0M49.3 80.3h0M61.5 80.6h0M53 81.3h0M59.4 80h0M57.7 79h0M66.3 80.3h0M64 81.8h0M52.4 79.7h0M60.1 80.8h0M58.4 80.9h0M64 78.3h0M54 78h0M57.5 79.6h0M65.2 80.2h0M59.4 81.2h0M65.2 78.8h0M53.9 80.3h0M75 79.8h0M58.5 80.3h0M66.9 79.9h0M62.6 79.6h0M41.3 72.1h0M43.3 73.3h0M43.1 78h0M43.8 63h0M40.6 70.1h0M41.9 79.9h0M46.4 83.5h0M44.5 77.9h0M41.6 78.6h0M38.6 80.5h0M42.2 79h0M40.5 70.7h0M41.1 75.8h0M42.8 74.3h0M42.8 79.3h0M40.3 75.5h0M39.6 73.3h0M43.7 72.5h0M45.3 78.5h0M43.7 76.5h0M43.6 81.3h0M42.4 73.4h0M41.3 85.4h0M41.9 73.8h0M41 67.8h0M41.4 77.6h0M41.4 72.3h0M42.9 78.2h0M41.5 77.5h0M40.6 80.2h0M40.6 74.4h0M42.4 74h0M40.3 86.2h0M44.7 67.5h0M42.4 69.8h0M42.7 69.7h0M43.2 78.6h0M45 81.9h0M41.4 80.6h0M41.4 75.5h0M41.4 67.4h0M43.2 66.1h0M41.8 78.6h0M42.4 68.3h0M41.1 79.3h0M44 83.8h0M39.2 78.2h0M41.4 79.7h0M39.4 75.3h0M43.4 72.9h0M41.6 71.2h0M44.1 69.5h0M40.7 74.4h0M41.7 86.3h0M42.7 71.9h0M43.2 77.7h0M42.7 75.7h0M43 70.3h0M40.2 73.9h0M40.4 79.4h0M45.4 82h0M42.9 77.6h0M41.1 69.7h0M43.1 68.8h0M42.7 75.3h0M43.4 76.2h0M42.4 73.2h0M39.3 74.3h0M43.4 81.1h0M44.5 71.2h0M40.6 79.4h0M41.4 88.5h0M42.7 68.6h0M41.3 83.6h0M39.2 76.7h0M39.9 83.8h0M41.5 71h0M39.4 72.5h0M38 73.7h0M45.8 76.5h0M41.8 70.3h0M42.8 73.7h0M40.8 82.7h0M42.9 71.7h0M44.7 75.7h0M43 76.7h0M44.2 79h0M41.6 79.5h0M41.6 76.7h0M44.9 70.8h0M40.5 74h0M41.4 82.3h0M39.6 87.2h0M44.8 73.8h0M42.5 74.2h0M43.3 79.2h0M43.5 79.7h0M45.4 75.2h0M43.4 75.1h0M42.3 77.1h0" stroke="#222" stroke-width="0.7" stroke-linecap="round" fill="none" opacity="0.85"/>
<ellipse cx="42.2" cy="75.2" rx="3.9" ry="10.5" fill="none" stroke="#444" stroke-width="0.55" opacity="1"/>
<ellipse cx="42.2" cy="75.2" rx="3.1" ry="8.7" fill="none" stroke="#444" stroke-width="0.55" opacity="1"/>
<ellipse cx="42.2" cy="75.2" rx="2.3" ry="6.8" fill="none" stroke="#444" stroke-width="0.55" opacity="1"/>
<ellipse cx="42.2" cy="75.2" rx="1.5" ry="4.8" fill="none" stroke="#444" stroke-width="0.55" opacity="1"/>
<ellipse cx="42.2" cy="75.2" rx="0.8" ry="2.8" fill="none" stroke="#444" stroke-width="0.55" opacity="1"/>
<ellipse cx="42.2" cy="76" rx="2.6" ry="7" fill="#666" stroke="none" stroke-width="0" opacity="0.3"/>
<ellipse cx="81.2" cy="71.8" rx="4.6" ry="8" fill="none" stroke="#666" stroke-width="0.5" opacity="1"/>
<ellipse cx="81.2" cy="71.8" rx="3.6" ry="6.6" fill="none" stroke="#666" stroke-width="0.5" opacity="1"/>
<ellipse cx="81.2" cy="71.8" rx="2.6" ry="5" fill="none" stroke="#666" stroke-width="0.5" opacity="1"/>
<ellipse cx="81.2" cy="71.8" rx="1.6" ry="3.4" fill="none" stroke="#666" stroke-width="0.5" opacity="1"/>
<path d="M46.5 69.5 C56 71.5 68 71 77 66 M46.5 81 C56 80.5 68 80 77 78.5 M49 74 C58 75 66 74.5 76 70.5 M49 77 C58 76.8 66 77 76 76" fill="none" stroke="#666" stroke-width="0.5"/>
<rect x="0" y="0" width="111.3" height="111.5" fill="none" stroke="#b5b5b5" stroke-width="0.8"/>
<line x1="-2.8" y1="11.4" x2="0" y2="11.4" stroke="#333" stroke-width="0.7"/>
<line x1="-2.8" y1="37.5" x2="0" y2="37.5" stroke="#333" stroke-width="0.7"/>
<line x1="-2.8" y1="68" x2="0" y2="68" stroke="#333" stroke-width="0.7"/>
<line x1="-2.8" y1="85.7" x2="0" y2="85.7" stroke="#333" stroke-width="0.7"/>
<line x1="-2.8" y1="103.8" x2="0" y2="103.8" stroke="#333" stroke-width="0.7"/>
<path d="M-1.6 29.64H0M-1.6 25.05H0M-1.6 21.79H0M-1.6 19.26H0M-1.6 17.19H0M-1.6 15.44H0M-1.6 13.93H0M-1.6 12.59H0M-1.6 58.82H0M-1.6 53.45H0M-1.6 49.64H0M-1.6 46.68H0M-1.6 44.27H0M-1.6 42.22H0M-1.6 40.46H0M-1.6 38.9H0M-1.6 3.54H0M-1.4 70.5H0M-1.4 73H0M-1.4 75.3H0M-1.4 77.3H0M-1.4 79H0M-1.4 80.5H0M-1.4 91H0M-1.4 93H0M-1.4 95H0M-1.4 97H0M-1.4 99H0M-1.4 101H0M-1.4 106H0M-1.4 108H0" stroke="#333" stroke-width="0.6" fill="none"/>
<rect x="-3.1" y="83.4" width="2.9" height="4.6" fill="#111"/>
<text x="-5.6" y="12.7" class="tk" font-size="4.2" text-anchor="end">10<tspan dy="-1.3" font-size="3.0">5</tspan></text>
<text x="-5.6" y="38.8" class="tk" font-size="4.2" text-anchor="end">10<tspan dy="-1.3" font-size="3.0">4</tspan></text>
<text x="-5.6" y="69.3" class="tk" font-size="4.2" text-anchor="end">10<tspan dy="-1.3" font-size="3.0">3</tspan></text>
<text x="-5.6" y="87" class="tk" font-size="4.2" text-anchor="end">0</text>
<text x="-5.6" y="105.1" class="tk" font-size="4.2" text-anchor="end">-10<tspan dy="-1.3" font-size="3.0">3</tspan></text>
<path d="M0.6 111.5v2.8M21.2 111.5v2.8M41.8 111.5v2.8M63 111.5v2.8M83.7 111.5v2.8" stroke="#333" stroke-width="0.7" fill="none"/>
<path d="M4.74 111.5v1.5M8.88 111.5v1.5M13.02 111.5v1.5M17.16 111.5v1.5M25.44 111.5v1.5M29.58 111.5v1.5M33.72 111.5v1.5M37.86 111.5v1.5M46.14 111.5v1.5M50.28 111.5v1.5M54.42 111.5v1.5M58.56 111.5v1.5M66.84 111.5v1.5M70.98 111.5v1.5M75.12 111.5v1.5M79.26 111.5v1.5" stroke="#555" stroke-width="0.5" fill="none"/>
<text x="0.6" y="119.1" class="tk" font-size="4.0" text-anchor="middle">0</text>
<text x="21.2" y="119.1" class="tk" font-size="4.0" text-anchor="middle">50K</text>
<text x="41.8" y="119.1" class="tk" font-size="4.0" text-anchor="middle">100K</text>
<text x="63" y="119.1" class="tk" font-size="4.0" text-anchor="middle">150K</text>
<text x="83.7" y="119.1" class="tk" font-size="4.0" text-anchor="middle">200K</text>
<rect x="2.25" y="4.1" width="100.15" height="48.3" fill="none" stroke="#2a2a2a" stroke-width="0.9"/>
<line x1="38.65" y1="4.1" x2="38.65" y2="52.4" stroke="#222" stroke-width="1.5"/>
<text x="4.6" y="12.1" class="gt" font-size="8.4">SubG1</text>
<text x="4.6" y="22" class="gt" font-size="8.4">TAMRA+</text>
<text x="4.6" y="31.4" class="gt" font-size="8.4">0.82%</text>
<text x="101.1" y="11.8" class="gt" font-size="8.4" text-anchor="end">G1-S-G2</text>
<text x="101.1" y="21.7" class="gt" font-size="8.4" text-anchor="end">TAMRA+</text>
<text x="101.1" y="30.6" class="gt" font-size="8.4" text-anchor="end">0.74%</text>
</g>
</g>
<g id="panelB">
<text x="454.6" y="37" font-size="31.2" textLength="16.4" lengthAdjust="spacingAndGlyphs">B</text>
<text x="583.1" y="31" font-size="14" textLength="68.4" lengthAdjust="spacingAndGlyphs">RAW264.7</text>
<line x1="522.7" y1="386.9" x2="522.7" y2="83.9" stroke="#111" stroke-width="1.1"/>
<line x1="514.4" y1="386.9" x2="523.25" y2="386.9" stroke="#111" stroke-width="1.1"/>
<text x="507" y="392.2" font-size="14.5" text-anchor="end">0</text>
<line x1="514.4" y1="311.15" x2="523.25" y2="311.15" stroke="#111" stroke-width="1.1"/>
<text x="507" y="316.45" font-size="14.5" text-anchor="end">20</text>
<line x1="514.4" y1="235.4" x2="523.25" y2="235.4" stroke="#111" stroke-width="1.1"/>
<text x="507" y="240.7" font-size="14.5" text-anchor="end">40</text>
<line x1="514.4" y1="159.65" x2="523.25" y2="159.65" stroke="#111" stroke-width="1.1"/>
<text x="507" y="164.95" font-size="14.5" text-anchor="end">60</text>
<line x1="514.4" y1="83.9" x2="523.25" y2="83.9" stroke="#111" stroke-width="1.1"/>
<text x="507" y="89.2" font-size="14.5" text-anchor="end">80</text>
<text x="475.5" y="233.2" font-size="17" text-anchor="middle" textLength="249.3" lengthAdjust="spacingAndGlyphs" transform="rotate(-90 475.5 233.2)">% cell death – LDH release (19h)</text>
<line x1="541.75" y1="221.5" x2="541.75" y2="260" stroke="#111" stroke-width="1.1" stroke-dasharray="4.7 4.4"/>
<line x1="541.75" y1="315.25" x2="541.75" y2="291.75" stroke="#111" stroke-width="1.1" stroke-dasharray="4.7 4.4"/>
<line x1="536.1" y1="221.5" x2="547.4" y2="221.5" stroke="#111" stroke-width="1.1"/>
<line x1="536.1" y1="315.25" x2="547.4" y2="315.25" stroke="#111" stroke-width="1.1"/>
<rect x="531.55" y="260" width="20.4" height="31.75" fill="#fff" stroke="#111" stroke-width="1.1"/>
<line x1="531.55" y1="285" x2="551.95" y2="285" stroke="#000" stroke-width="3.3"/>
<line x1="568.4" y1="264.5" x2="568.4" y2="287.5" stroke="#111" stroke-width="1.1" stroke-dasharray="4.7 4.4"/>
<line x1="568.4" y1="360" x2="568.4" y2="331.25" stroke="#111" stroke-width="1.1" stroke-dasharray="4.7 4.4"/>
<line x1="562.75" y1="264.5" x2="574.05" y2="264.5" stroke="#111" stroke-width="1.1"/>
<line x1="562.75" y1="360" x2="574.05" y2="360" stroke="#111" stroke-width="1.1"/>
<rect x="558.2" y="287.5" width="20.4" height="43.75" fill="#fff" stroke="#111" stroke-width="1.1"/>
<line x1="558.2" y1="317.25" x2="578.6" y2="317.25" stroke="#000" stroke-width="3.3"/>
<line x1="594.5" y1="307" x2="594.5" y2="309.25" stroke="#111" stroke-width="1.1" stroke-dasharray="4.7 4.4"/>
<line x1="594.5" y1="368.25" x2="594.5" y2="358" stroke="#111" stroke-width="1.1" stroke-dasharray="4.7 4.4"/>
<line x1="588.85" y1="307" x2="600.15" y2="307" stroke="#111" stroke-width="1.1"/>
<line x1="588.85" y1="368.25" x2="600.15" y2="368.25" stroke="#111" stroke-width="1.1"/>
<rect x="584.3" y="309.25" width="20.4" height="48.75" fill="#fff" stroke="#111" stroke-width="1.1"/>
<line x1="584.3" y1="329" x2="604.7" y2="329" stroke="#000" stroke-width="3.3"/>
<line x1="621" y1="319" x2="621" y2="339.75" stroke="#111" stroke-width="1.1" stroke-dasharray="4.7 4.4"/>
<line x1="621" y1="379.25" x2="621" y2="364.25" stroke="#111" stroke-width="1.1" stroke-dasharray="4.7 4.4"/>
<line x1="615.35" y1="319" x2="626.65" y2="319" stroke="#111" stroke-width="1.1"/>
<line x1="615.35" y1="379.25" x2="626.65" y2="379.25" stroke="#111" stroke-width="1.1"/>
<rect x="610.8" y="339.75" width="20.4" height="24.5" fill="#fff" stroke="#111" stroke-width="1.1"/>
<line x1="610.8" y1="354.5" x2="631.2" y2="354.5" stroke="#000" stroke-width="3.3"/>
<line x1="647.4" y1="203.5" x2="647.4" y2="226.25" stroke="#111" stroke-width="1.1" stroke-dasharray="4.7 4.4"/>
<line x1="647.4" y1="279" x2="647.4" y2="258.75" stroke="#111" stroke-width="1.1" stroke-dasharray="4.7 4.4"/>
<line x1="641.75" y1="203.5" x2="653.05" y2="203.5" stroke="#111" stroke-width="1.1"/>
<line x1="641.75" y1="279" x2="653.05" y2="279" stroke="#111" stroke-width="1.1"/>
<rect x="637.2" y="226.25" width="20.4" height="32.5" fill="#fff" stroke="#111" stroke-width="1.1"/>
<line x1="637.2" y1="248.5" x2="657.6" y2="248.5" stroke="#000" stroke-width="3.3"/>
<line x1="673.75" y1="229.5" x2="673.75" y2="257.5" stroke="#111" stroke-width="1.1" stroke-dasharray="4.7 4.4"/>
<line x1="673.75" y1="306.5" x2="673.75" y2="295.25" stroke="#111" stroke-width="1.1" stroke-dasharray="4.7 4.4"/>
<line x1="668.1" y1="229.5" x2="679.4" y2="229.5" stroke="#111" stroke-width="1.1"/>
<line x1="668.1" y1="306.5" x2="679.4" y2="306.5" stroke="#111" stroke-width="1.1"/>
<rect x="663.55" y="257.5" width="20.4" height="37.75" fill="#fff" stroke="#111" stroke-width="1.1"/>
<line x1="663.55" y1="277.25" x2="683.95" y2="277.25" stroke="#000" stroke-width="3.3"/>
<circle cx="541.75" cy="201.25" r="2.95" fill="none" stroke="#111" stroke-width="1.15"/>
<circle cx="647.3" cy="73.75" r="2.95" fill="none" stroke="#111" stroke-width="1.15"/>
<circle cx="647.3" cy="92.5" r="2.95" fill="none" stroke="#111" stroke-width="1.15"/>
<circle cx="647.3" cy="162.25" r="2.95" fill="none" stroke="#111" stroke-width="1.15"/>
<circle cx="673.75" cy="199.5" r="2.95" fill="none" stroke="#111" stroke-width="1.15"/>
<circle cx="541.75" cy="201.25" r="2.7" fill="none" stroke="#111" stroke-width="1.6"/>
<polyline points="541.75,184.5 541.75,177 568.25,177 568.25,184.5" fill="none" stroke="#111" stroke-width="1" stroke-linejoin="miter"/>
<text x="532.5" y="169.2" font-size="8.8" textLength="50" lengthAdjust="spacingAndGlyphs"><tspan font-style="italic">p</tspan> = 2.0 e-04</text>
<polyline points="647.75,65 647.75,57.5 674.25,57.5 674.25,65" fill="none" stroke="#111" stroke-width="1" stroke-linejoin="miter"/>
<text x="638.75" y="49.8" font-size="8.8" textLength="50" lengthAdjust="spacingAndGlyphs"><tspan font-style="italic">p</tspan> = 6.3 e-03</text>
<polyline points="594.75,298.25 594.75,291.25 621.5,291.25 621.5,298.25" fill="none" stroke="#111" stroke-width="1" stroke-linejoin="miter"/>
<text x="591.25" y="283.6" font-size="8.8" textLength="39.3" lengthAdjust="spacingAndGlyphs"><tspan font-style="italic">p</tspan> = 0.017</text>
<line x1="541.75" y1="395.9" x2="673.75" y2="395.9" stroke="#111" stroke-width="1.1"/>
<line x1="541.75" y1="395.35" x2="541.75" y2="402.2" stroke="#111" stroke-width="1.1"/>
<line x1="568.4" y1="395.35" x2="568.4" y2="402.2" stroke="#111" stroke-width="1.1"/>
<line x1="594.5" y1="395.35" x2="594.5" y2="402.2" stroke="#111" stroke-width="1.1"/>
<line x1="621" y1="395.35" x2="621" y2="402.2" stroke="#111" stroke-width="1.1"/>
<line x1="647.4" y1="395.35" x2="647.4" y2="402.2" stroke="#111" stroke-width="1.1"/>
<line x1="673.75" y1="395.35" x2="673.75" y2="402.2" stroke="#111" stroke-width="1.1"/>
<text x="541.75" y="417.3" font-size="12.6" text-anchor="middle">21</text>
<text x="568.4" y="417.3" font-size="12.6" text-anchor="middle">22</text>
<text x="594.5" y="417.3" font-size="12.6" text-anchor="middle">17</text>
<text x="621" y="417.3" font-size="12.6" text-anchor="middle">18</text>
<text x="647.4" y="417.3" font-size="12.6" text-anchor="middle">18</text>
<text x="673.75" y="417.3" font-size="12.6" text-anchor="middle">18</text>
<text x="691.5" y="417.4" font-size="12" textLength="19.3" lengthAdjust="spacingAndGlyphs">= <tspan font-style="italic">n</tspan></text>
<line x1="541.7" y1="424.8" x2="568" y2="424.8" stroke="#333" stroke-width="1.1"/>
<line x1="541.7" y1="450.35" x2="568" y2="450.35" stroke="#333" stroke-width="1.1"/>
<line x1="595.25" y1="424.8" x2="620.8" y2="424.8" stroke="#333" stroke-width="1.1"/>
<line x1="595.25" y1="450.35" x2="620.8" y2="450.35" stroke="#333" stroke-width="1.1"/>
<line x1="647" y1="424.8" x2="673" y2="424.8" stroke="#333" stroke-width="1.1"/>
<line x1="647" y1="450.35" x2="673" y2="450.35" stroke="#333" stroke-width="1.1"/>
<text x="541.75" y="441.8" font-size="12.6" text-anchor="middle">-</text>
<text x="568.9" y="442.2" font-size="12.6" text-anchor="middle">25</text>
<text x="594.5" y="441.8" font-size="12.6" text-anchor="middle">-</text>
<text x="621.5" y="442.2" font-size="12.6" text-anchor="middle">25</text>
<text x="647.4" y="441.8" font-size="12.6" text-anchor="middle">-</text>
<text x="674.25" y="442.2" font-size="12.6" text-anchor="middle">25</text>
<text x="691.5" y="442.2" font-size="13" textLength="98" lengthAdjust="spacingAndGlyphs">CA-074-Me (µM)</text>
<text x="547" y="469.3" font-size="13" textLength="15.9" lengthAdjust="spacingAndGlyphs">Wt</text>
<text x="590" y="469.3" font-size="13.6" textLength="36.75" lengthAdjust="spacingAndGlyphs">SPI-2</text>
<text x="650.2" y="469.3" font-size="13.4" textLength="23.8" lengthAdjust="spacingAndGlyphs">sifA</text>
</g>
<g id="panelC">
<text x="24" y="509.5" font-size="31.4" textLength="19.6" lengthAdjust="spacingAndGlyphs">C</text>
<text x="212" y="520" font-size="17.6" textLength="65.4" lengthAdjust="spacingAndGlyphs">BMDMs</text>
<line x1="82.8" y1="540.7" x2="82.8" y2="765.2" stroke="#1a1a1a" stroke-width="1.15"/>
<line x1="74.8" y1="541.2" x2="82.8" y2="541.2" stroke="#1a1a1a" stroke-width="1"/>
<text x="69.2" y="545.3" font-size="12.2" text-anchor="end" textLength="13.2" lengthAdjust="spacingAndGlyphs">40</text>
<line x1="74.8" y1="585.9" x2="82.8" y2="585.9" stroke="#1a1a1a" stroke-width="1"/>
<text x="69.2" y="590" font-size="12.2" text-anchor="end" textLength="13.2" lengthAdjust="spacingAndGlyphs">30</text>
<line x1="74.8" y1="630.6" x2="82.8" y2="630.6" stroke="#1a1a1a" stroke-width="1"/>
<text x="69.2" y="634.7" font-size="12.2" text-anchor="end" textLength="13.2" lengthAdjust="spacingAndGlyphs">20</text>
<line x1="74.8" y1="675.3" x2="82.8" y2="675.3" stroke="#1a1a1a" stroke-width="1"/>
<text x="69.2" y="679.4" font-size="12.2" text-anchor="end" textLength="13.2" lengthAdjust="spacingAndGlyphs">10</text>
<line x1="74.8" y1="720" x2="82.8" y2="720" stroke="#1a1a1a" stroke-width="1"/>
<text x="71.8" y="724.1" font-size="12.2" text-anchor="end" textLength="6.2" lengthAdjust="spacingAndGlyphs">0</text>
<line x1="74.8" y1="764.7" x2="82.8" y2="764.7" stroke="#1a1a1a" stroke-width="1"/>
<text x="41" y="648" font-size="14" text-anchor="middle" textLength="177.5" lengthAdjust="spacingAndGlyphs" transform="rotate(-90 41 648)">% cell death - LDH release</text>
<line x1="82.8" y1="720" x2="417.9" y2="720" stroke="#1a1a1a" stroke-width="1.15"/>
<line x1="149.72" y1="720" x2="149.72" y2="727.2" stroke="#1a1a1a" stroke-width="1"/>
<text x="153.32" y="740.6" font-size="12.3" text-anchor="end" transform="rotate(-45 153.32 740.6)">4</text>
<line x1="216.84" y1="720" x2="216.84" y2="727.2" stroke="#1a1a1a" stroke-width="1"/>
<text x="220.44" y="740.6" font-size="12.3" text-anchor="end" transform="rotate(-45 220.44 740.6)">8</text>
<line x1="283.96" y1="720" x2="283.96" y2="727.2" stroke="#1a1a1a" stroke-width="1"/>
<text x="287.56" y="740.6" font-size="12.3" text-anchor="end" transform="rotate(-45 287.56 740.6)">12</text>
<line x1="351.08" y1="720" x2="351.08" y2="727.2" stroke="#1a1a1a" stroke-width="1"/>
<text x="354.68" y="740.6" font-size="12.3" text-anchor="end" transform="rotate(-45 354.68 740.6)">16</text>
<line x1="418.2" y1="720" x2="418.2" y2="727.2" stroke="#1a1a1a" stroke-width="1"/>
<text x="421.8" y="740.6" font-size="12.3" text-anchor="end" transform="rotate(-45 421.8 740.6)">20</text>
<text x="231" y="766" font-size="15" textLength="56" lengthAdjust="spacingAndGlyphs">Time (h)</text>
<line x1="121" y1="552.5" x2="145.4" y2="552.5" stroke="#222" stroke-width="1"/>
<circle cx="133.1" cy="552.5" r="4.4" fill="#000" stroke="none" stroke-width="0"/>
<line x1="121" y1="582.8" x2="145.4" y2="582.8" stroke="#e8604c" stroke-width="1"/>
<rect x="128.8" y="578.5" width="8.6" height="8.6" fill="#000" stroke="none" stroke-width="0"/>
<line x1="121" y1="612.2" x2="145.4" y2="612.2" stroke="#4a86d0" stroke-width="1"/>
<polygon points="133.1,608.27 128.5,616.41 137.7,616.41" fill="#000"/>
<text x="154.9" y="557.1" font-size="14.5" textLength="44" lengthAdjust="spacingAndGlyphs">DMSO</text>
<text x="155" y="587.3" font-size="14.4" textLength="134.8" lengthAdjust="spacingAndGlyphs">CA-074Me (12.5µM)</text>
<text x="155" y="617.6" font-size="14.4" textLength="122.7" lengthAdjust="spacingAndGlyphs">CA-074Me (25µM)</text>
<line x1="82.8" y1="705.8" x2="82.8" y2="725.8" stroke="#333" stroke-width="1"/>
<line x1="78" y1="705.8" x2="87.6" y2="705.8" stroke="#333" stroke-width="1"/>
<line x1="78" y1="725.8" x2="87.6" y2="725.8" stroke="#333" stroke-width="1"/>
<line x1="82.8" y1="712.5" x2="82.8" y2="724.3" stroke="#333" stroke-width="1"/>
<line x1="78" y1="712.5" x2="87.6" y2="712.5" stroke="#333" stroke-width="1"/>
<line x1="78" y1="724.3" x2="87.6" y2="724.3" stroke="#333" stroke-width="1"/>
<line x1="250.4" y1="650.8" x2="250.4" y2="719.5" stroke="#333" stroke-width="1"/>
<line x1="245.6" y1="650.8" x2="255.2" y2="650.8" stroke="#333" stroke-width="1"/>
<line x1="245.6" y1="719.5" x2="255.2" y2="719.5" stroke="#333" stroke-width="1"/>
<line x1="317.52" y1="610.3" x2="317.52" y2="720.4" stroke="#333" stroke-width="1"/>
<line x1="312.72" y1="610.3" x2="322.32" y2="610.3" stroke="#333" stroke-width="1"/>
<line x1="312.72" y1="720.4" x2="322.32" y2="720.4" stroke="#333" stroke-width="1"/>
<line x1="384.64" y1="556.3" x2="384.64" y2="609.4" stroke="#333" stroke-width="1"/>
<line x1="379.84" y1="556.3" x2="389.44" y2="556.3" stroke="#333" stroke-width="1"/>
<line x1="379.84" y1="609.4" x2="389.44" y2="609.4" stroke="#333" stroke-width="1"/>
<line x1="250.4" y1="677.5" x2="250.4" y2="703" stroke="#333" stroke-width="1"/>
<line x1="245.6" y1="677.5" x2="255.2" y2="677.5" stroke="#333" stroke-width="1"/>
<line x1="245.6" y1="703" x2="255.2" y2="703" stroke="#333" stroke-width="1"/>
<line x1="317.52" y1="659.2" x2="317.52" y2="690.8" stroke="#333" stroke-width="1"/>
<line x1="312.72" y1="659.2" x2="322.32" y2="659.2" stroke="#333" stroke-width="1"/>
<line x1="312.72" y1="690.8" x2="322.32" y2="690.8" stroke="#333" stroke-width="1"/>
<line x1="384.64" y1="635.5" x2="384.64" y2="675.4" stroke="#333" stroke-width="1"/>
<line x1="379.84" y1="635.5" x2="389.44" y2="635.5" stroke="#333" stroke-width="1"/>
<line x1="379.84" y1="675.4" x2="389.44" y2="675.4" stroke="#333" stroke-width="1"/>
<line x1="250.4" y1="687.5" x2="250.4" y2="710.5" stroke="#333" stroke-width="1"/>
<line x1="245.6" y1="687.5" x2="255.2" y2="687.5" stroke="#333" stroke-width="1"/>
<line x1="245.6" y1="710.5" x2="255.2" y2="710.5" stroke="#333" stroke-width="1"/>
<line x1="317.52" y1="688" x2="317.52" y2="720.4" stroke="#333" stroke-width="1"/>
<line x1="312.72" y1="688" x2="322.32" y2="688" stroke="#333" stroke-width="1"/>
<line x1="312.72" y1="720.4" x2="322.32" y2="720.4" stroke="#333" stroke-width="1"/>
<line x1="384.64" y1="691.6" x2="384.64" y2="710.2" stroke="#333" stroke-width="1"/>
<line x1="379.84" y1="691.6" x2="389.44" y2="691.6" stroke="#333" stroke-width="1"/>
<line x1="379.84" y1="710.2" x2="389.44" y2="710.2" stroke="#333" stroke-width="1"/>
<polyline points="82.8,719.4 250.4,699.1 317.52,697 384.64,701.5" fill="none" stroke="#2a9fe0" stroke-width="1.5" stroke-linejoin="round"/>
<polyline points="82.8,716 250.4,690.1 317.52,675.1 384.64,655.3" fill="none" stroke="#e8604c" stroke-width="1" stroke-linejoin="round"/>
<polyline points="82.8,718.8 250.4,680.2 317.52,648.7 384.64,583" fill="none" stroke="#000" stroke-width="1.9" stroke-linejoin="round"/>
<polygon points="82.8,715.17 78.2,723.31 87.4,723.31" fill="#000"/>
<polygon points="250.4,694.87 245.8,703.01 255,703.01" fill="#000"/>
<polygon points="317.52,692.77 312.92,700.91 322.12,700.91" fill="#000"/>
<polygon points="384.64,697.27 380.04,705.41 389.24,705.41" fill="#000"/>
<rect x="78.5" y="711.7" width="8.6" height="8.6" fill="#000" stroke="none" stroke-width="0"/>
<rect x="246.1" y="685.8" width="8.6" height="8.6" fill="#000" stroke="none" stroke-width="0"/>
<rect x="313.22" y="670.8" width="8.6" height="8.6" fill="#000" stroke="none" stroke-width="0"/>
<rect x="380.34" y="651" width="8.6" height="8.6" fill="#000" stroke="none" stroke-width="0"/>
<circle cx="82.8" cy="718.8" r="4.5" fill="#000" stroke="none" stroke-width="0"/>
<circle cx="250.4" cy="680.2" r="4.5" fill="#000" stroke="none" stroke-width="0"/>
<circle cx="317.52" cy="648.7" r="4.5" fill="#000" stroke="none" stroke-width="0"/>
<circle cx="384.64" cy="583" r="4.5" fill="#000" stroke="none" stroke-width="0"/>
</g>
<g id="panelD">
<text x="25.6" y="833.4" font-size="31.4" textLength="21.4" lengthAdjust="spacingAndGlyphs">D</text>
<text x="199.25" y="824.75" font-size="17.5" textLength="64.6" lengthAdjust="spacingAndGlyphs">BMDMs</text>
<line x1="79.7" y1="873.75" x2="79.7" y2="1112.05" stroke="#333" stroke-width="1"/>
<line x1="73.1" y1="874.25" x2="79.7" y2="874.25" stroke="#333" stroke-width="1"/>
<text x="67" y="878.25" font-size="11.2" text-anchor="end" textLength="12.8" lengthAdjust="spacingAndGlyphs">50</text>
<line x1="73.1" y1="913.8" x2="79.7" y2="913.8" stroke="#333" stroke-width="1"/>
<text x="67" y="917.8" font-size="11.2" text-anchor="end" textLength="12.8" lengthAdjust="spacingAndGlyphs">40</text>
<line x1="73.1" y1="953.35" x2="79.7" y2="953.35" stroke="#333" stroke-width="1"/>
<text x="67" y="957.35" font-size="11.2" text-anchor="end" textLength="12.8" lengthAdjust="spacingAndGlyphs">30</text>
<line x1="73.1" y1="992.9" x2="79.7" y2="992.9" stroke="#333" stroke-width="1"/>
<text x="67" y="996.9" font-size="11.2" text-anchor="end" textLength="12.8" lengthAdjust="spacingAndGlyphs">20</text>
<line x1="73.1" y1="1032.45" x2="79.7" y2="1032.45" stroke="#333" stroke-width="1"/>
<text x="67" y="1036.45" font-size="11.2" text-anchor="end" textLength="12.8" lengthAdjust="spacingAndGlyphs">10</text>
<line x1="73.1" y1="1072" x2="79.7" y2="1072" stroke="#333" stroke-width="1"/>
<text x="67" y="1076" font-size="11.2" text-anchor="end" textLength="6.4" lengthAdjust="spacingAndGlyphs">0</text>
<line x1="73.1" y1="1111.55" x2="79.7" y2="1111.55" stroke="#333" stroke-width="1"/>
<text x="67" y="1115.55" font-size="11.2" text-anchor="end" textLength="19.6" lengthAdjust="spacingAndGlyphs">−10</text>
<text x="45.6" y="988.6" font-size="15.5" text-anchor="middle" textLength="221" lengthAdjust="spacingAndGlyphs" transform="rotate(-90 45.6 988.6)">% cell death – LDH release 18h</text>
<line x1="103.9" y1="865.5" x2="103.9" y2="934.8" stroke="#444" stroke-width="1" stroke-dasharray="4.5 5.0"/>
<line x1="103.9" y1="1030.3" x2="103.9" y2="1015" stroke="#444" stroke-width="1" stroke-dasharray="4.5 5.0"/>
<line x1="97.9" y1="865.5" x2="109.9" y2="865.5" stroke="#444" stroke-width="1"/>
<line x1="97.9" y1="1030.3" x2="109.9" y2="1030.3" stroke="#444" stroke-width="1"/>
<rect x="91.8" y="934.8" width="24.2" height="80.2" fill="#d3d3d1" stroke="#444" stroke-width="1"/>
<line x1="91.8" y1="986.5" x2="116" y2="986.5" stroke="#000" stroke-width="2.5"/>
<line x1="134.1" y1="963.7" x2="134.1" y2="1003" stroke="#444" stroke-width="1" stroke-dasharray="4.5 5.0"/>
<line x1="134.1" y1="1068.1" x2="134.1" y2="1053.4" stroke="#444" stroke-width="1" stroke-dasharray="4.5 5.0"/>
<line x1="128.1" y1="963.7" x2="140.1" y2="963.7" stroke="#444" stroke-width="1"/>
<line x1="128.1" y1="1068.1" x2="140.1" y2="1068.1" stroke="#444" stroke-width="1"/>
<rect x="122" y="1003" width="24.2" height="50.4" fill="#e2001a" stroke="#444" stroke-width="1"/>
<line x1="122" y1="1027.5" x2="146.2" y2="1027.5" stroke="#000" stroke-width="2.5"/>
<line x1="164.1" y1="1011.4" x2="164.1" y2="1036.6" stroke="#444" stroke-width="1" stroke-dasharray="4.5 5.0"/>
<line x1="164.1" y1="1101.4" x2="164.1" y2="1087.4" stroke="#444" stroke-width="1" stroke-dasharray="4.5 5.0"/>
<line x1="158.1" y1="1011.4" x2="170.1" y2="1011.4" stroke="#444" stroke-width="1"/>
<line x1="158.1" y1="1101.4" x2="170.1" y2="1101.4" stroke="#444" stroke-width="1"/>
<rect x="152" y="1036.6" width="24.2" height="50.8" fill="#d3d3d1" stroke="#444" stroke-width="1"/>
<line x1="152" y1="1074.75" x2="176.2" y2="1074.75" stroke="#000" stroke-width="2.5"/>
<line x1="194.1" y1="1034.9" x2="194.1" y2="1056.6" stroke="#444" stroke-width="1" stroke-dasharray="4.5 5.0"/>
<line x1="194.1" y1="1103.5" x2="194.1" y2="1096.5" stroke="#444" stroke-width="1" stroke-dasharray="4.5 5.0"/>
<line x1="188.1" y1="1034.9" x2="200.1" y2="1034.9" stroke="#444" stroke-width="1"/>
<line x1="188.1" y1="1103.5" x2="200.1" y2="1103.5" stroke="#444" stroke-width="1"/>
<rect x="182" y="1056.6" width="24.2" height="39.9" fill="#e2001a" stroke="#444" stroke-width="1"/>
<line x1="182" y1="1085.25" x2="206.2" y2="1085.25" stroke="#000" stroke-width="2.5"/>
<line x1="224.2" y1="892.7" x2="224.2" y2="939.4" stroke="#444" stroke-width="1" stroke-dasharray="4.5 5.0"/>
<line x1="224.2" y1="1042.9" x2="224.2" y2="1011" stroke="#444" stroke-width="1" stroke-dasharray="4.5 5.0"/>
<line x1="218.2" y1="892.7" x2="230.2" y2="892.7" stroke="#444" stroke-width="1"/>
<line x1="218.2" y1="1042.9" x2="230.2" y2="1042.9" stroke="#444" stroke-width="1"/>
<rect x="212.1" y="939.4" width="24.2" height="71.6" fill="#d3d3d1" stroke="#444" stroke-width="1"/>
<line x1="212.1" y1="957.6" x2="236.3" y2="957.6" stroke="#000" stroke-width="2.5"/>
<line x1="254.2" y1="981.7" x2="254.2" y2="1022.25" stroke="#444" stroke-width="1" stroke-dasharray="4.5 5.0"/>
<line x1="254.2" y1="1077.9" x2="254.2" y2="1054.8" stroke="#444" stroke-width="1" stroke-dasharray="4.5 5.0"/>
<line x1="248.2" y1="981.7" x2="260.2" y2="981.7" stroke="#444" stroke-width="1"/>
<line x1="248.2" y1="1077.9" x2="260.2" y2="1077.9" stroke="#444" stroke-width="1"/>
<rect x="242.1" y="1022.25" width="24.2" height="32.55" fill="#e2001a" stroke="#444" stroke-width="1"/>
<line x1="242.1" y1="1037.7" x2="266.3" y2="1037.7" stroke="#000" stroke-width="2.5"/>
<line x1="284.4" y1="898.2" x2="284.4" y2="911.1" stroke="#444" stroke-width="1" stroke-dasharray="4.5 5.0"/>
<line x1="284.4" y1="1001.3" x2="284.4" y2="949.85" stroke="#444" stroke-width="1" stroke-dasharray="4.5 5.0"/>
<line x1="278.4" y1="898.2" x2="290.4" y2="898.2" stroke="#444" stroke-width="1"/>
<line x1="278.4" y1="1001.3" x2="290.4" y2="1001.3" stroke="#444" stroke-width="1"/>
<rect x="272.3" y="911.1" width="24.2" height="38.75" fill="#d3d3d1" stroke="#444" stroke-width="1"/>
<line x1="272.3" y1="946" x2="296.5" y2="946" stroke="#000" stroke-width="2.5"/>
<line x1="314.5" y1="964.5" x2="314.5" y2="982.5" stroke="#444" stroke-width="1" stroke-dasharray="4.5 5.0"/>
<line x1="314.5" y1="1045" x2="314.5" y2="1042.2" stroke="#444" stroke-width="1" stroke-dasharray="4.5 5.0"/>
<line x1="308.5" y1="964.5" x2="320.5" y2="964.5" stroke="#444" stroke-width="1"/>
<line x1="308.5" y1="1045" x2="320.5" y2="1045" stroke="#444" stroke-width="1"/>
<rect x="302.4" y="982.5" width="24.2" height="59.7" fill="#e2001a" stroke="#444" stroke-width="1"/>
<line x1="302.4" y1="1026.1" x2="326.6" y2="1026.1" stroke="#000" stroke-width="2.5"/>
<text x="85.5" y="846.3" font-size="12.5" textLength="71.5" lengthAdjust="spacingAndGlyphs"><tspan font-style="italic">p</tspan> = 5.3e-05</text>
<line x1="103.9" y1="853.4" x2="139" y2="853.4" stroke="#333" stroke-width="0.9"/>
<text x="135.5" y="940.6" font-size="12.5" textLength="67.4" lengthAdjust="spacingAndGlyphs"><tspan font-style="italic">p</tspan> = 0.4579</text>
<line x1="163" y1="949.9" x2="198.2" y2="949.9" stroke="#333" stroke-width="0.9"/>
<text x="188.25" y="863.1" font-size="12.5" textLength="71.5" lengthAdjust="spacingAndGlyphs"><tspan font-style="italic">p</tspan> = 5.1e-03</text>
<line x1="219" y1="870.1" x2="253.7" y2="870.1" stroke="#333" stroke-width="0.9"/>
<text x="276.8" y="882.3" font-size="12.5" textLength="71" lengthAdjust="spacingAndGlyphs"><tspan font-style="italic">p</tspan> = 8.1e-04</text>
<line x1="285.6" y1="887.2" x2="320.3" y2="887.2" stroke="#333" stroke-width="0.9"/>
<line x1="103.4" y1="1117.75" x2="315" y2="1117.75" stroke="#333" stroke-width="1"/>
<line x1="104.1" y1="1117.75" x2="104.1" y2="1123.2" stroke="#333" stroke-width="1"/>
<line x1="134.3" y1="1117.75" x2="134.3" y2="1123.2" stroke="#333" stroke-width="1"/>
<line x1="164.3" y1="1117.75" x2="164.3" y2="1123.2" stroke="#333" stroke-width="1"/>
<line x1="194.3" y1="1117.75" x2="194.3" y2="1123.2" stroke="#333" stroke-width="1"/>
<line x1="224.4" y1="1117.75" x2="224.4" y2="1123.2" stroke="#333" stroke-width="1"/>
<line x1="254.4" y1="1117.75" x2="254.4" y2="1123.2" stroke="#333" stroke-width="1"/>
<line x1="284.6" y1="1117.75" x2="284.6" y2="1123.2" stroke="#333" stroke-width="1"/>
<line x1="314.7" y1="1117.75" x2="314.7" y2="1123.2" stroke="#333" stroke-width="1"/>
<text x="101" y="1137.7" font-size="10.8" text-anchor="middle">24</text>
<text x="131.5" y="1137.7" font-size="10.8" text-anchor="middle">25</text>
<text x="161.75" y="1137.7" font-size="10.8" text-anchor="middle">9</text>
<text x="192.5" y="1137.7" font-size="10.8" text-anchor="middle">9</text>
<text x="223" y="1137.7" font-size="10.8" text-anchor="middle">9</text>
<text x="253.75" y="1137.7" font-size="10.8" text-anchor="middle">9</text>
<text x="284.5" y="1137.7" font-size="10.8" text-anchor="middle">9</text>
<text x="315" y="1137.7" font-size="10.8" text-anchor="middle">9</text>
<line x1="100.75" y1="1143.5" x2="139" y2="1143.5" stroke="#444" stroke-width="1"/>
<line x1="100.75" y1="1163.75" x2="139" y2="1163.75" stroke="#444" stroke-width="1"/>
<text x="105.25" y="1158.9" font-size="17" text-anchor="middle" style="stroke-width:0.3px">-</text>
<text x="135.6" y="1160.5" font-size="17.5" text-anchor="middle" style="stroke-width:0.38px">+</text>
<line x1="159.95" y1="1143.5" x2="198.2" y2="1143.5" stroke="#444" stroke-width="1"/>
<line x1="159.95" y1="1163.75" x2="198.2" y2="1163.75" stroke="#444" stroke-width="1"/>
<text x="164.55" y="1158.9" font-size="17" text-anchor="middle" style="stroke-width:0.3px">-</text>
<text x="194.9" y="1160.5" font-size="17.5" text-anchor="middle" style="stroke-width:0.38px">+</text>
<line x1="219.15" y1="1143.5" x2="257.4" y2="1143.5" stroke="#444" stroke-width="1"/>
<line x1="219.15" y1="1163.75" x2="257.4" y2="1163.75" stroke="#444" stroke-width="1"/>
<text x="223.85" y="1158.9" font-size="17" text-anchor="middle" style="stroke-width:0.3px">-</text>
<text x="254.2" y="1160.5" font-size="17.5" text-anchor="middle" style="stroke-width:0.38px">+</text>
<line x1="278.35" y1="1143.5" x2="316.6" y2="1143.5" stroke="#444" stroke-width="1"/>
<line x1="278.35" y1="1163.75" x2="316.6" y2="1163.75" stroke="#444" stroke-width="1"/>
<text x="283.15" y="1158.9" font-size="17" text-anchor="middle" style="stroke-width:0.3px">-</text>
<text x="313.5" y="1160.5" font-size="17.5" text-anchor="middle" style="stroke-width:0.38px">+</text>
<text x="329.5" y="1136.6" font-size="13" textLength="19.3" lengthAdjust="spacingAndGlyphs">= n</text>
<text x="328" y="1155" font-size="14" textLength="134.5" lengthAdjust="spacingAndGlyphs">CA-074-Me  (12.5µM)</text>
<text x="130.5" y="1176.5" font-size="13" text-anchor="end" transform="rotate(-45 130.5 1176.5)">Wild type</text>
<text x="184.5" y="1176.5" font-size="13" text-anchor="end" font-style="italic" transform="rotate(-45 184.5 1176.5)">Casp11 -/-</text>
<text x="240.5" y="1176.5" font-size="13" text-anchor="end" font-style="italic" transform="rotate(-45 240.5 1176.5)">NLRP3 -/-</text>
<text x="302" y="1176.5" font-size="13" text-anchor="end" font-style="italic" transform="rotate(-45 302 1176.5)">NLRC4 -/-</text>
</g>
<g id="panelE">
<text x="466.6" y="509.4" font-size="29.6" textLength="14.3" lengthAdjust="spacingAndGlyphs">E</text>
<text x="514.6" y="523.2" font-size="16.2" textLength="221.6" lengthAdjust="spacingAndGlyphs">RAW264.7 - LPS transfection</text>
<line x1="635.4" y1="846" x2="635.4" y2="547.4" stroke="#111" stroke-width="1.1"/>
<line x1="627.8" y1="846" x2="635.95" y2="846" stroke="#111" stroke-width="1.1"/>
<text x="621" y="850.6" font-size="12.6" text-anchor="end" textLength="7.6" lengthAdjust="spacingAndGlyphs">0</text>
<line x1="627.8" y1="786.28" x2="635.95" y2="786.28" stroke="#111" stroke-width="1.1"/>
<text x="621" y="790.88" font-size="12.6" text-anchor="end" textLength="15.9" lengthAdjust="spacingAndGlyphs">10</text>
<line x1="627.8" y1="726.56" x2="635.95" y2="726.56" stroke="#111" stroke-width="1.1"/>
<text x="621" y="731.16" font-size="12.6" text-anchor="end" textLength="15.9" lengthAdjust="spacingAndGlyphs">20</text>
<line x1="627.8" y1="666.84" x2="635.95" y2="666.84" stroke="#111" stroke-width="1.1"/>
<text x="621" y="671.44" font-size="12.6" text-anchor="end" textLength="15.9" lengthAdjust="spacingAndGlyphs">30</text>
<line x1="627.8" y1="607.12" x2="635.95" y2="607.12" stroke="#111" stroke-width="1.1"/>
<text x="621" y="611.72" font-size="12.6" text-anchor="end" textLength="15.9" lengthAdjust="spacingAndGlyphs">40</text>
<line x1="627.8" y1="547.4" x2="635.95" y2="547.4" stroke="#111" stroke-width="1.1"/>
<text x="621" y="552" font-size="12.6" text-anchor="end" textLength="15.9" lengthAdjust="spacingAndGlyphs">50</text>
<text x="588.2" y="706" font-size="14.5" text-anchor="middle" textLength="188" lengthAdjust="spacingAndGlyphs" transform="rotate(-90 588.2 706)">% cell death (LDH release)</text>
<line x1="651.5" y1="590" x2="651.5" y2="612.8" stroke="#111" stroke-width="1" stroke-dasharray="4.5 4.3"/>
<line x1="651.5" y1="726.4" x2="651.5" y2="708.8" stroke="#111" stroke-width="1" stroke-dasharray="4.5 4.3"/>
<line x1="645.5" y1="590" x2="657.5" y2="590" stroke="#111" stroke-width="1"/>
<line x1="645.5" y1="726.4" x2="657.5" y2="726.4" stroke="#111" stroke-width="1"/>
<rect x="640.65" y="612.8" width="21.7" height="96" fill="#d4d4d2" stroke="#111" stroke-width="1"/>
<line x1="640.65" y1="656.4" x2="662.35" y2="656.4" stroke="#000" stroke-width="3.3"/>
<line x1="679.9" y1="746.4" x2="679.9" y2="764" stroke="#111" stroke-width="1" stroke-dasharray="4.5 4.3"/>
<line x1="679.9" y1="792.4" x2="679.9" y2="787.2" stroke="#111" stroke-width="1" stroke-dasharray="4.5 4.3"/>
<line x1="673.9" y1="746.4" x2="685.9" y2="746.4" stroke="#111" stroke-width="1"/>
<line x1="673.9" y1="792.4" x2="685.9" y2="792.4" stroke="#111" stroke-width="1"/>
<rect x="668.9" y="764" width="22" height="23.2" fill="#0c9be3" stroke="#111" stroke-width="1"/>
<line x1="668.9" y1="775.6" x2="690.9" y2="775.6" stroke="#000" stroke-width="3.3"/>
<text x="648.5" y="560.3" font-size="12.3" textLength="75.7" lengthAdjust="spacingAndGlyphs"><tspan font-style="italic">p</tspan> = 1.6 e-03</text>
<line x1="653.7" y1="566.4" x2="687.8" y2="566.4" stroke="#333" stroke-width="1"/>
<polyline points="651.7,865.2 651.7,857.6 680,857.6 680,865.2" fill="none" stroke="#111" stroke-width="1.1" stroke-linejoin="miter"/>
<text x="649.5" y="885.6" font-size="12.3" text-anchor="middle">16</text>
<text x="678.7" y="885.6" font-size="12.3" text-anchor="middle">17</text>
<text x="696.4" y="883.9" font-size="10.8" textLength="16.4" lengthAdjust="spacingAndGlyphs">= <tspan font-style="italic">n</tspan></text>
<line x1="647.2" y1="893.9" x2="686.2" y2="893.9" stroke="#333" stroke-width="1.1"/>
<line x1="647.2" y1="917.9" x2="686.2" y2="917.9" stroke="#333" stroke-width="1.1"/>
<text x="535.6" y="911.2" font-size="13.5" textLength="103.4" lengthAdjust="spacingAndGlyphs">CA-074-Me (µM)</text>
<text x="652" y="910.6" font-size="12.3" text-anchor="middle">-</text>
<text x="677.5" y="911" font-size="12.3" text-anchor="middle">25</text>
<text x="637" y="935.8" font-size="13.5" textLength="77" lengthAdjust="spacingAndGlyphs">LPS-Fugene</text>
</g>
</svg>
</body></html>
